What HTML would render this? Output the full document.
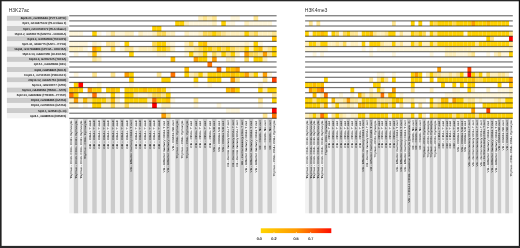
<!DOCTYPE html><html><head><meta charset="utf-8"><style>
html,body{margin:0;padding:0;background:#fff;}
body{width:520px;height:248px;overflow:hidden;position:relative;font-family:"Liberation Sans",sans-serif;}
.a{position:absolute;}
svg{position:absolute;left:0;top:0;will-change:transform;}
</style></head><body>
<svg width="520" height="248" viewBox="0 0 520 248">
<rect x="6.9" y="15.75" width="61.50" height="5.13" fill="#cbcbcb"/>
<rect x="6.9" y="20.88" width="61.50" height="5.13" fill="#f2f2f2"/>
<rect x="6.9" y="26.01" width="61.50" height="5.13" fill="#cbcbcb"/>
<rect x="6.9" y="31.14" width="61.50" height="5.13" fill="#f2f2f2"/>
<rect x="6.9" y="36.27" width="61.50" height="5.13" fill="#cbcbcb"/>
<rect x="6.9" y="41.40" width="61.50" height="5.13" fill="#f2f2f2"/>
<rect x="6.9" y="46.53" width="61.50" height="5.13" fill="#cbcbcb"/>
<rect x="6.9" y="51.66" width="61.50" height="5.13" fill="#f2f2f2"/>
<rect x="6.9" y="56.79" width="61.50" height="5.13" fill="#cbcbcb"/>
<rect x="6.9" y="61.92" width="61.50" height="5.13" fill="#f2f2f2"/>
<rect x="6.9" y="67.05" width="61.50" height="5.13" fill="#cbcbcb"/>
<rect x="6.9" y="72.18" width="61.50" height="5.13" fill="#f2f2f2"/>
<rect x="6.9" y="77.31" width="61.50" height="5.13" fill="#cbcbcb"/>
<rect x="6.9" y="82.44" width="61.50" height="5.13" fill="#f2f2f2"/>
<rect x="6.9" y="87.57" width="61.50" height="5.13" fill="#cbcbcb"/>
<rect x="6.9" y="92.70" width="61.50" height="5.13" fill="#f2f2f2"/>
<rect x="6.9" y="97.83" width="61.50" height="5.13" fill="#cbcbcb"/>
<rect x="6.9" y="102.96" width="61.50" height="5.13" fill="#f2f2f2"/>
<rect x="6.9" y="108.09" width="61.50" height="5.13" fill="#cbcbcb"/>
<rect x="6.9" y="113.22" width="61.50" height="5.13" fill="#f2f2f2"/>
<rect x="69.20" y="118.8" width="4.63" height="94.50" fill="#f2f2f2"/>
<rect x="73.81" y="118.8" width="4.63" height="94.50" fill="#cbcbcb"/>
<rect x="78.42" y="118.8" width="4.63" height="94.50" fill="#f2f2f2"/>
<rect x="83.03" y="118.8" width="4.63" height="94.50" fill="#cbcbcb"/>
<rect x="87.64" y="118.8" width="4.63" height="94.50" fill="#f2f2f2"/>
<rect x="92.24" y="118.8" width="4.63" height="94.50" fill="#cbcbcb"/>
<rect x="96.85" y="118.8" width="4.63" height="94.50" fill="#f2f2f2"/>
<rect x="101.46" y="118.8" width="4.63" height="94.50" fill="#cbcbcb"/>
<rect x="106.07" y="118.8" width="4.63" height="94.50" fill="#f2f2f2"/>
<rect x="110.68" y="118.8" width="4.63" height="94.50" fill="#cbcbcb"/>
<rect x="115.29" y="118.8" width="4.63" height="94.50" fill="#f2f2f2"/>
<rect x="119.90" y="118.8" width="4.63" height="94.50" fill="#cbcbcb"/>
<rect x="124.51" y="118.8" width="4.63" height="94.50" fill="#f2f2f2"/>
<rect x="129.12" y="118.8" width="4.63" height="94.50" fill="#cbcbcb"/>
<rect x="133.72" y="118.8" width="4.63" height="94.50" fill="#f2f2f2"/>
<rect x="138.33" y="118.8" width="4.63" height="94.50" fill="#cbcbcb"/>
<rect x="142.94" y="118.8" width="4.63" height="94.50" fill="#f2f2f2"/>
<rect x="147.55" y="118.8" width="4.63" height="94.50" fill="#cbcbcb"/>
<rect x="152.16" y="118.8" width="4.63" height="94.50" fill="#f2f2f2"/>
<rect x="156.77" y="118.8" width="4.63" height="94.50" fill="#cbcbcb"/>
<rect x="161.38" y="118.8" width="4.63" height="94.50" fill="#f2f2f2"/>
<rect x="165.99" y="118.8" width="4.63" height="94.50" fill="#cbcbcb"/>
<rect x="170.60" y="118.8" width="4.63" height="94.50" fill="#f2f2f2"/>
<rect x="175.20" y="118.8" width="4.63" height="94.50" fill="#cbcbcb"/>
<rect x="179.81" y="118.8" width="4.63" height="94.50" fill="#f2f2f2"/>
<rect x="184.42" y="118.8" width="4.63" height="94.50" fill="#cbcbcb"/>
<rect x="189.03" y="118.8" width="4.63" height="94.50" fill="#f2f2f2"/>
<rect x="193.64" y="118.8" width="4.63" height="94.50" fill="#cbcbcb"/>
<rect x="198.25" y="118.8" width="4.63" height="94.50" fill="#f2f2f2"/>
<rect x="202.86" y="118.8" width="4.63" height="94.50" fill="#cbcbcb"/>
<rect x="207.47" y="118.8" width="4.63" height="94.50" fill="#f2f2f2"/>
<rect x="212.08" y="118.8" width="4.63" height="94.50" fill="#cbcbcb"/>
<rect x="216.68" y="118.8" width="4.63" height="94.50" fill="#f2f2f2"/>
<rect x="221.29" y="118.8" width="4.63" height="94.50" fill="#cbcbcb"/>
<rect x="225.90" y="118.8" width="4.63" height="94.50" fill="#f2f2f2"/>
<rect x="230.51" y="118.8" width="4.63" height="94.50" fill="#cbcbcb"/>
<rect x="235.12" y="118.8" width="4.63" height="94.50" fill="#f2f2f2"/>
<rect x="239.73" y="118.8" width="4.63" height="94.50" fill="#cbcbcb"/>
<rect x="244.34" y="118.8" width="4.63" height="94.50" fill="#f2f2f2"/>
<rect x="248.95" y="118.8" width="4.63" height="94.50" fill="#cbcbcb"/>
<rect x="253.56" y="118.8" width="4.63" height="94.50" fill="#f2f2f2"/>
<rect x="258.16" y="118.8" width="4.63" height="94.50" fill="#cbcbcb"/>
<rect x="262.77" y="118.8" width="4.63" height="94.50" fill="#f2f2f2"/>
<rect x="267.38" y="118.8" width="4.63" height="94.50" fill="#cbcbcb"/>
<rect x="271.99" y="118.8" width="4.63" height="94.50" fill="#f2f2f2"/>
<rect x="198.25" y="15.75" width="4.63" height="5.13" fill="#fff0bc"/>
<rect x="202.86" y="15.75" width="4.63" height="5.13" fill="#ffe690"/>
<rect x="207.47" y="15.75" width="4.63" height="5.13" fill="#fff0bc"/>
<rect x="212.08" y="15.75" width="4.63" height="5.13" fill="#ffe690"/>
<rect x="230.51" y="15.75" width="4.63" height="5.13" fill="#fff7dc"/>
<rect x="235.12" y="15.75" width="4.63" height="5.13" fill="#fff7dc"/>
<rect x="253.56" y="15.75" width="4.63" height="5.13" fill="#ffe690"/>
<rect x="175.20" y="20.88" width="4.63" height="5.13" fill="#ffd200"/>
<rect x="179.81" y="20.88" width="4.63" height="5.13" fill="#ffd200"/>
<rect x="184.42" y="20.88" width="4.63" height="5.13" fill="#fff0bc"/>
<rect x="189.03" y="20.88" width="4.63" height="5.13" fill="#fff7dc"/>
<rect x="193.64" y="20.88" width="4.63" height="5.13" fill="#fff7dc"/>
<rect x="198.25" y="20.88" width="4.63" height="5.13" fill="#fff7dc"/>
<rect x="202.86" y="20.88" width="4.63" height="5.13" fill="#fff7dc"/>
<rect x="207.47" y="20.88" width="4.63" height="5.13" fill="#fff7dc"/>
<rect x="212.08" y="20.88" width="4.63" height="5.13" fill="#fff0bc"/>
<rect x="221.29" y="20.88" width="4.63" height="5.13" fill="#ffd200"/>
<rect x="225.90" y="20.88" width="4.63" height="5.13" fill="#fff7dc"/>
<rect x="230.51" y="20.88" width="4.63" height="5.13" fill="#fff7dc"/>
<rect x="244.34" y="20.88" width="4.63" height="5.13" fill="#fff0bc"/>
<rect x="248.95" y="20.88" width="4.63" height="5.13" fill="#fff7dc"/>
<rect x="253.56" y="20.88" width="4.63" height="5.13" fill="#fff7dc"/>
<rect x="258.16" y="20.88" width="4.63" height="5.13" fill="#fff7dc"/>
<rect x="262.77" y="20.88" width="4.63" height="5.13" fill="#fff7dc"/>
<rect x="267.38" y="20.88" width="4.63" height="5.13" fill="#fff7dc"/>
<rect x="152.16" y="26.01" width="4.63" height="5.13" fill="#ffd200"/>
<rect x="156.77" y="26.01" width="4.63" height="5.13" fill="#ffd200"/>
<rect x="69.20" y="31.14" width="4.63" height="5.13" fill="#fff7dc"/>
<rect x="73.81" y="31.14" width="4.63" height="5.13" fill="#fff7dc"/>
<rect x="78.42" y="31.14" width="4.63" height="5.13" fill="#fff7dc"/>
<rect x="92.24" y="31.14" width="4.63" height="5.13" fill="#ffd200"/>
<rect x="96.85" y="31.14" width="4.63" height="5.13" fill="#fff7dc"/>
<rect x="106.07" y="31.14" width="4.63" height="5.13" fill="#fff7dc"/>
<rect x="110.68" y="31.14" width="4.63" height="5.13" fill="#ffe690"/>
<rect x="115.29" y="31.14" width="4.63" height="5.13" fill="#fff7dc"/>
<rect x="119.90" y="31.14" width="4.63" height="5.13" fill="#fff7dc"/>
<rect x="124.51" y="31.14" width="4.63" height="5.13" fill="#fff0bc"/>
<rect x="129.12" y="31.14" width="4.63" height="5.13" fill="#fff0bc"/>
<rect x="138.33" y="31.14" width="4.63" height="5.13" fill="#fff0bc"/>
<rect x="142.94" y="31.14" width="4.63" height="5.13" fill="#fff7dc"/>
<rect x="147.55" y="31.14" width="4.63" height="5.13" fill="#fff7dc"/>
<rect x="152.16" y="31.14" width="4.63" height="5.13" fill="#fff0bc"/>
<rect x="156.77" y="31.14" width="4.63" height="5.13" fill="#ffdb55"/>
<rect x="161.38" y="31.14" width="4.63" height="5.13" fill="#ffdb55"/>
<rect x="165.99" y="31.14" width="4.63" height="5.13" fill="#fff0bc"/>
<rect x="170.60" y="31.14" width="4.63" height="5.13" fill="#fff0bc"/>
<rect x="184.42" y="31.14" width="4.63" height="5.13" fill="#fff0bc"/>
<rect x="189.03" y="31.14" width="4.63" height="5.13" fill="#fff7dc"/>
<rect x="193.64" y="31.14" width="4.63" height="5.13" fill="#fff7dc"/>
<rect x="198.25" y="31.14" width="4.63" height="5.13" fill="#fff0bc"/>
<rect x="202.86" y="31.14" width="4.63" height="5.13" fill="#ffdb55"/>
<rect x="207.47" y="31.14" width="4.63" height="5.13" fill="#ffdb55"/>
<rect x="212.08" y="31.14" width="4.63" height="5.13" fill="#ffd200"/>
<rect x="216.68" y="31.14" width="4.63" height="5.13" fill="#ffdb55"/>
<rect x="221.29" y="31.14" width="4.63" height="5.13" fill="#ffe690"/>
<rect x="225.90" y="31.14" width="4.63" height="5.13" fill="#fff0bc"/>
<rect x="230.51" y="31.14" width="4.63" height="5.13" fill="#fff0bc"/>
<rect x="235.12" y="31.14" width="4.63" height="5.13" fill="#fff0bc"/>
<rect x="239.73" y="31.14" width="4.63" height="5.13" fill="#fff0bc"/>
<rect x="244.34" y="31.14" width="4.63" height="5.13" fill="#ffd200"/>
<rect x="248.95" y="31.14" width="4.63" height="5.13" fill="#ffe690"/>
<rect x="253.56" y="31.14" width="4.63" height="5.13" fill="#ffdb55"/>
<rect x="258.16" y="31.14" width="4.63" height="5.13" fill="#fff0bc"/>
<rect x="262.77" y="31.14" width="4.63" height="5.13" fill="#fff0bc"/>
<rect x="267.38" y="31.14" width="4.63" height="5.13" fill="#fff0bc"/>
<rect x="271.99" y="31.14" width="4.63" height="5.13" fill="#ffe690"/>
<rect x="271.99" y="36.27" width="4.63" height="5.13" fill="#ffbf00"/>
<rect x="69.20" y="41.40" width="4.63" height="5.13" fill="#fff7dc"/>
<rect x="73.81" y="41.40" width="4.63" height="5.13" fill="#fff7dc"/>
<rect x="78.42" y="41.40" width="4.63" height="5.13" fill="#fff7dc"/>
<rect x="83.03" y="41.40" width="4.63" height="5.13" fill="#fff7dc"/>
<rect x="92.24" y="41.40" width="4.63" height="5.13" fill="#fff0bc"/>
<rect x="96.85" y="41.40" width="4.63" height="5.13" fill="#fff7dc"/>
<rect x="106.07" y="41.40" width="4.63" height="5.13" fill="#ffe690"/>
<rect x="110.68" y="41.40" width="4.63" height="5.13" fill="#ffe690"/>
<rect x="115.29" y="41.40" width="4.63" height="5.13" fill="#fff7dc"/>
<rect x="124.51" y="41.40" width="4.63" height="5.13" fill="#ffd200"/>
<rect x="152.16" y="41.40" width="4.63" height="5.13" fill="#ffdb55"/>
<rect x="156.77" y="41.40" width="4.63" height="5.13" fill="#ffd200"/>
<rect x="161.38" y="41.40" width="4.63" height="5.13" fill="#ffd200"/>
<rect x="165.99" y="41.40" width="4.63" height="5.13" fill="#fff0bc"/>
<rect x="170.60" y="41.40" width="4.63" height="5.13" fill="#fff7dc"/>
<rect x="184.42" y="41.40" width="4.63" height="5.13" fill="#fff0bc"/>
<rect x="189.03" y="41.40" width="4.63" height="5.13" fill="#ffdb55"/>
<rect x="193.64" y="41.40" width="4.63" height="5.13" fill="#fff7dc"/>
<rect x="198.25" y="41.40" width="4.63" height="5.13" fill="#ffd200"/>
<rect x="202.86" y="41.40" width="4.63" height="5.13" fill="#ffbf00"/>
<rect x="207.47" y="41.40" width="4.63" height="5.13" fill="#fff0bc"/>
<rect x="212.08" y="41.40" width="4.63" height="5.13" fill="#fff0bc"/>
<rect x="216.68" y="41.40" width="4.63" height="5.13" fill="#fff0bc"/>
<rect x="221.29" y="41.40" width="4.63" height="5.13" fill="#fff0bc"/>
<rect x="225.90" y="41.40" width="4.63" height="5.13" fill="#fff0bc"/>
<rect x="230.51" y="41.40" width="4.63" height="5.13" fill="#fff7dc"/>
<rect x="235.12" y="41.40" width="4.63" height="5.13" fill="#fff7dc"/>
<rect x="239.73" y="41.40" width="4.63" height="5.13" fill="#fff7dc"/>
<rect x="244.34" y="41.40" width="4.63" height="5.13" fill="#fff0bc"/>
<rect x="248.95" y="41.40" width="4.63" height="5.13" fill="#fff7dc"/>
<rect x="253.56" y="41.40" width="4.63" height="5.13" fill="#ffd200"/>
<rect x="258.16" y="41.40" width="4.63" height="5.13" fill="#fff7dc"/>
<rect x="69.20" y="46.53" width="4.63" height="5.13" fill="#fff0bc"/>
<rect x="73.81" y="46.53" width="4.63" height="5.13" fill="#fff0bc"/>
<rect x="78.42" y="46.53" width="4.63" height="5.13" fill="#fff0bc"/>
<rect x="83.03" y="46.53" width="4.63" height="5.13" fill="#fff7dc"/>
<rect x="92.24" y="46.53" width="4.63" height="5.13" fill="#ffa000"/>
<rect x="96.85" y="46.53" width="4.63" height="5.13" fill="#ffd200"/>
<rect x="101.46" y="46.53" width="4.63" height="5.13" fill="#fff7dc"/>
<rect x="106.07" y="46.53" width="4.63" height="5.13" fill="#fff7dc"/>
<rect x="110.68" y="46.53" width="4.63" height="5.13" fill="#ffdb55"/>
<rect x="119.90" y="46.53" width="4.63" height="5.13" fill="#fff7dc"/>
<rect x="124.51" y="46.53" width="4.63" height="5.13" fill="#ffe690"/>
<rect x="129.12" y="46.53" width="4.63" height="5.13" fill="#ffe690"/>
<rect x="133.72" y="46.53" width="4.63" height="5.13" fill="#fff7dc"/>
<rect x="138.33" y="46.53" width="4.63" height="5.13" fill="#fff0bc"/>
<rect x="142.94" y="46.53" width="4.63" height="5.13" fill="#fff0bc"/>
<rect x="147.55" y="46.53" width="4.63" height="5.13" fill="#fff0bc"/>
<rect x="152.16" y="46.53" width="4.63" height="5.13" fill="#ffe690"/>
<rect x="156.77" y="46.53" width="4.63" height="5.13" fill="#ffd200"/>
<rect x="161.38" y="46.53" width="4.63" height="5.13" fill="#ffd200"/>
<rect x="165.99" y="46.53" width="4.63" height="5.13" fill="#ffdb55"/>
<rect x="170.60" y="46.53" width="4.63" height="5.13" fill="#fff0bc"/>
<rect x="184.42" y="46.53" width="4.63" height="5.13" fill="#fff0bc"/>
<rect x="189.03" y="46.53" width="4.63" height="5.13" fill="#fff0bc"/>
<rect x="193.64" y="46.53" width="4.63" height="5.13" fill="#ffe690"/>
<rect x="198.25" y="46.53" width="4.63" height="5.13" fill="#ffdb55"/>
<rect x="202.86" y="46.53" width="4.63" height="5.13" fill="#ffd200"/>
<rect x="207.47" y="46.53" width="4.63" height="5.13" fill="#ffd200"/>
<rect x="212.08" y="46.53" width="4.63" height="5.13" fill="#ffdb55"/>
<rect x="216.68" y="46.53" width="4.63" height="5.13" fill="#ffd200"/>
<rect x="221.29" y="46.53" width="4.63" height="5.13" fill="#ffdb55"/>
<rect x="225.90" y="46.53" width="4.63" height="5.13" fill="#ffd200"/>
<rect x="230.51" y="46.53" width="4.63" height="5.13" fill="#ffdb55"/>
<rect x="235.12" y="46.53" width="4.63" height="5.13" fill="#ffe690"/>
<rect x="239.73" y="46.53" width="4.63" height="5.13" fill="#ffe690"/>
<rect x="244.34" y="46.53" width="4.63" height="5.13" fill="#ffd200"/>
<rect x="248.95" y="46.53" width="4.63" height="5.13" fill="#fff0bc"/>
<rect x="253.56" y="46.53" width="4.63" height="5.13" fill="#ffd200"/>
<rect x="258.16" y="46.53" width="4.63" height="5.13" fill="#ffbf00"/>
<rect x="262.77" y="46.53" width="4.63" height="5.13" fill="#fff0bc"/>
<rect x="267.38" y="46.53" width="4.63" height="5.13" fill="#ffe690"/>
<rect x="271.99" y="46.53" width="4.63" height="5.13" fill="#ffd200"/>
<rect x="73.81" y="51.66" width="4.63" height="5.13" fill="#fff7dc"/>
<rect x="87.64" y="51.66" width="4.63" height="5.13" fill="#fff7dc"/>
<rect x="92.24" y="51.66" width="4.63" height="5.13" fill="#ffbf00"/>
<rect x="96.85" y="51.66" width="4.63" height="5.13" fill="#fff7dc"/>
<rect x="129.12" y="51.66" width="4.63" height="5.13" fill="#ffd200"/>
<rect x="156.77" y="51.66" width="4.63" height="5.13" fill="#fff7dc"/>
<rect x="161.38" y="51.66" width="4.63" height="5.13" fill="#fff7dc"/>
<rect x="184.42" y="51.66" width="4.63" height="5.13" fill="#fff7dc"/>
<rect x="189.03" y="51.66" width="4.63" height="5.13" fill="#ffd200"/>
<rect x="193.64" y="51.66" width="4.63" height="5.13" fill="#fff0bc"/>
<rect x="198.25" y="51.66" width="4.63" height="5.13" fill="#ffe690"/>
<rect x="202.86" y="51.66" width="4.63" height="5.13" fill="#ffd200"/>
<rect x="207.47" y="51.66" width="4.63" height="5.13" fill="#fff7dc"/>
<rect x="212.08" y="51.66" width="4.63" height="5.13" fill="#ffdb55"/>
<rect x="216.68" y="51.66" width="4.63" height="5.13" fill="#fff0bc"/>
<rect x="221.29" y="51.66" width="4.63" height="5.13" fill="#ffd200"/>
<rect x="225.90" y="51.66" width="4.63" height="5.13" fill="#ffe690"/>
<rect x="230.51" y="51.66" width="4.63" height="5.13" fill="#ffd200"/>
<rect x="235.12" y="51.66" width="4.63" height="5.13" fill="#fff0bc"/>
<rect x="244.34" y="51.66" width="4.63" height="5.13" fill="#ffa000"/>
<rect x="248.95" y="51.66" width="4.63" height="5.13" fill="#ffdb55"/>
<rect x="253.56" y="51.66" width="4.63" height="5.13" fill="#ffdb55"/>
<rect x="258.16" y="51.66" width="4.63" height="5.13" fill="#ffe690"/>
<rect x="262.77" y="51.66" width="4.63" height="5.13" fill="#ffa000"/>
<rect x="267.38" y="51.66" width="4.63" height="5.13" fill="#ffe690"/>
<rect x="271.99" y="51.66" width="4.63" height="5.13" fill="#ffd200"/>
<rect x="92.24" y="56.79" width="4.63" height="5.13" fill="#ffe690"/>
<rect x="96.85" y="56.79" width="4.63" height="5.13" fill="#fff0bc"/>
<rect x="170.60" y="56.79" width="4.63" height="5.13" fill="#ffbf00"/>
<rect x="193.64" y="56.79" width="4.63" height="5.13" fill="#ffa000"/>
<rect x="198.25" y="56.79" width="4.63" height="5.13" fill="#ffd200"/>
<rect x="202.86" y="56.79" width="4.63" height="5.13" fill="#ffd200"/>
<rect x="207.47" y="56.79" width="4.63" height="5.13" fill="#fff7dc"/>
<rect x="212.08" y="56.79" width="4.63" height="5.13" fill="#ffa000"/>
<rect x="225.90" y="56.79" width="4.63" height="5.13" fill="#fff0bc"/>
<rect x="230.51" y="56.79" width="4.63" height="5.13" fill="#fff0bc"/>
<rect x="244.34" y="56.79" width="4.63" height="5.13" fill="#ffdb55"/>
<rect x="253.56" y="56.79" width="4.63" height="5.13" fill="#ffd200"/>
<rect x="258.16" y="56.79" width="4.63" height="5.13" fill="#ffd200"/>
<rect x="262.77" y="56.79" width="4.63" height="5.13" fill="#fff0bc"/>
<rect x="207.47" y="61.92" width="4.63" height="5.13" fill="#ff7400"/>
<rect x="184.42" y="67.05" width="4.63" height="5.13" fill="#ffbf00"/>
<rect x="216.68" y="67.05" width="4.63" height="5.13" fill="#ff7400"/>
<rect x="225.90" y="67.05" width="4.63" height="5.13" fill="#ffbf00"/>
<rect x="230.51" y="67.05" width="4.63" height="5.13" fill="#ffbf00"/>
<rect x="235.12" y="67.05" width="4.63" height="5.13" fill="#ffa000"/>
<rect x="73.81" y="72.18" width="4.63" height="5.13" fill="#fff7dc"/>
<rect x="92.24" y="72.18" width="4.63" height="5.13" fill="#ffe690"/>
<rect x="110.68" y="72.18" width="4.63" height="5.13" fill="#ffe690"/>
<rect x="124.51" y="72.18" width="4.63" height="5.13" fill="#ffa000"/>
<rect x="129.12" y="72.18" width="4.63" height="5.13" fill="#ffd200"/>
<rect x="156.77" y="72.18" width="4.63" height="5.13" fill="#ffe690"/>
<rect x="170.60" y="72.18" width="4.63" height="5.13" fill="#ff7400"/>
<rect x="184.42" y="72.18" width="4.63" height="5.13" fill="#ffd200"/>
<rect x="189.03" y="72.18" width="4.63" height="5.13" fill="#fff0bc"/>
<rect x="193.64" y="72.18" width="4.63" height="5.13" fill="#ffe690"/>
<rect x="198.25" y="72.18" width="4.63" height="5.13" fill="#ffd200"/>
<rect x="202.86" y="72.18" width="4.63" height="5.13" fill="#fff0bc"/>
<rect x="207.47" y="72.18" width="4.63" height="5.13" fill="#ffd200"/>
<rect x="212.08" y="72.18" width="4.63" height="5.13" fill="#ffd200"/>
<rect x="216.68" y="72.18" width="4.63" height="5.13" fill="#ffd200"/>
<rect x="221.29" y="72.18" width="4.63" height="5.13" fill="#ffd200"/>
<rect x="225.90" y="72.18" width="4.63" height="5.13" fill="#ffd200"/>
<rect x="230.51" y="72.18" width="4.63" height="5.13" fill="#ffbf00"/>
<rect x="235.12" y="72.18" width="4.63" height="5.13" fill="#ffd200"/>
<rect x="239.73" y="72.18" width="4.63" height="5.13" fill="#ffd200"/>
<rect x="244.34" y="72.18" width="4.63" height="5.13" fill="#ffa000"/>
<rect x="248.95" y="72.18" width="4.63" height="5.13" fill="#ffe690"/>
<rect x="253.56" y="72.18" width="4.63" height="5.13" fill="#ffd200"/>
<rect x="258.16" y="72.18" width="4.63" height="5.13" fill="#fff7dc"/>
<rect x="262.77" y="72.18" width="4.63" height="5.13" fill="#ffa000"/>
<rect x="267.38" y="72.18" width="4.63" height="5.13" fill="#fff7dc"/>
<rect x="129.12" y="77.31" width="4.63" height="5.13" fill="#ffd200"/>
<rect x="161.38" y="77.31" width="4.63" height="5.13" fill="#ffd200"/>
<rect x="165.99" y="77.31" width="4.63" height="5.13" fill="#ffd200"/>
<rect x="193.64" y="77.31" width="4.63" height="5.13" fill="#ffd200"/>
<rect x="207.47" y="77.31" width="4.63" height="5.13" fill="#ffd200"/>
<rect x="212.08" y="77.31" width="4.63" height="5.13" fill="#ffd200"/>
<rect x="216.68" y="77.31" width="4.63" height="5.13" fill="#ffd200"/>
<rect x="230.51" y="77.31" width="4.63" height="5.13" fill="#ffa000"/>
<rect x="235.12" y="77.31" width="4.63" height="5.13" fill="#ffe690"/>
<rect x="262.77" y="77.31" width="4.63" height="5.13" fill="#ffe690"/>
<rect x="271.99" y="77.31" width="4.63" height="5.13" fill="#ff4000"/>
<rect x="73.81" y="82.44" width="4.63" height="5.13" fill="#ffd200"/>
<rect x="78.42" y="82.44" width="4.63" height="5.13" fill="#ff0000"/>
<rect x="96.85" y="82.44" width="4.63" height="5.13" fill="#fff7dc"/>
<rect x="129.12" y="82.44" width="4.63" height="5.13" fill="#fff7dc"/>
<rect x="193.64" y="82.44" width="4.63" height="5.13" fill="#fff7dc"/>
<rect x="207.47" y="82.44" width="4.63" height="5.13" fill="#fff7dc"/>
<rect x="258.16" y="82.44" width="4.63" height="5.13" fill="#fff7dc"/>
<rect x="69.20" y="87.57" width="4.63" height="5.13" fill="#ffbf00"/>
<rect x="73.81" y="87.57" width="4.63" height="5.13" fill="#ffbf00"/>
<rect x="78.42" y="87.57" width="4.63" height="5.13" fill="#ffd200"/>
<rect x="87.64" y="87.57" width="4.63" height="5.13" fill="#ffa000"/>
<rect x="92.24" y="87.57" width="4.63" height="5.13" fill="#ffd200"/>
<rect x="96.85" y="87.57" width="4.63" height="5.13" fill="#ffd200"/>
<rect x="106.07" y="87.57" width="4.63" height="5.13" fill="#ffd200"/>
<rect x="110.68" y="87.57" width="4.63" height="5.13" fill="#ffbf00"/>
<rect x="115.29" y="87.57" width="4.63" height="5.13" fill="#ffd200"/>
<rect x="124.51" y="87.57" width="4.63" height="5.13" fill="#ffd200"/>
<rect x="129.12" y="87.57" width="4.63" height="5.13" fill="#ffd200"/>
<rect x="133.72" y="87.57" width="4.63" height="5.13" fill="#ffd200"/>
<rect x="138.33" y="87.57" width="4.63" height="5.13" fill="#ffd200"/>
<rect x="142.94" y="87.57" width="4.63" height="5.13" fill="#ffbf00"/>
<rect x="147.55" y="87.57" width="4.63" height="5.13" fill="#ffd200"/>
<rect x="152.16" y="87.57" width="4.63" height="5.13" fill="#ffd200"/>
<rect x="156.77" y="87.57" width="4.63" height="5.13" fill="#ffbf00"/>
<rect x="161.38" y="87.57" width="4.63" height="5.13" fill="#ffd200"/>
<rect x="165.99" y="87.57" width="4.63" height="5.13" fill="#fff7dc"/>
<rect x="225.90" y="87.57" width="4.63" height="5.13" fill="#ffbf00"/>
<rect x="230.51" y="87.57" width="4.63" height="5.13" fill="#ffa000"/>
<rect x="235.12" y="87.57" width="4.63" height="5.13" fill="#ffd200"/>
<rect x="258.16" y="87.57" width="4.63" height="5.13" fill="#ffd200"/>
<rect x="262.77" y="87.57" width="4.63" height="5.13" fill="#fff0bc"/>
<rect x="267.38" y="87.57" width="4.63" height="5.13" fill="#ffd200"/>
<rect x="271.99" y="87.57" width="4.63" height="5.13" fill="#ffd200"/>
<rect x="69.20" y="92.70" width="4.63" height="5.13" fill="#ff7400"/>
<rect x="73.81" y="92.70" width="4.63" height="5.13" fill="#ffd200"/>
<rect x="87.64" y="92.70" width="4.63" height="5.13" fill="#fff7dc"/>
<rect x="92.24" y="92.70" width="4.63" height="5.13" fill="#ff7400"/>
<rect x="96.85" y="92.70" width="4.63" height="5.13" fill="#fff7dc"/>
<rect x="101.46" y="92.70" width="4.63" height="5.13" fill="#fff7dc"/>
<rect x="110.68" y="92.70" width="4.63" height="5.13" fill="#ffd200"/>
<rect x="115.29" y="92.70" width="4.63" height="5.13" fill="#fff7dc"/>
<rect x="124.51" y="92.70" width="4.63" height="5.13" fill="#ffd200"/>
<rect x="129.12" y="92.70" width="4.63" height="5.13" fill="#ffd200"/>
<rect x="133.72" y="92.70" width="4.63" height="5.13" fill="#fff0bc"/>
<rect x="138.33" y="92.70" width="4.63" height="5.13" fill="#fff7dc"/>
<rect x="142.94" y="92.70" width="4.63" height="5.13" fill="#fff7dc"/>
<rect x="147.55" y="92.70" width="4.63" height="5.13" fill="#fff0bc"/>
<rect x="152.16" y="92.70" width="4.63" height="5.13" fill="#ffdb55"/>
<rect x="156.77" y="92.70" width="4.63" height="5.13" fill="#ffdb55"/>
<rect x="161.38" y="92.70" width="4.63" height="5.13" fill="#ffe690"/>
<rect x="165.99" y="92.70" width="4.63" height="5.13" fill="#ffd200"/>
<rect x="271.99" y="92.70" width="4.63" height="5.13" fill="#ffe690"/>
<rect x="69.20" y="97.83" width="4.63" height="5.13" fill="#fff0bc"/>
<rect x="73.81" y="97.83" width="4.63" height="5.13" fill="#ffa000"/>
<rect x="78.42" y="97.83" width="4.63" height="5.13" fill="#fff0bc"/>
<rect x="83.03" y="97.83" width="4.63" height="5.13" fill="#ffbf00"/>
<rect x="87.64" y="97.83" width="4.63" height="5.13" fill="#ffe690"/>
<rect x="92.24" y="97.83" width="4.63" height="5.13" fill="#ffd200"/>
<rect x="96.85" y="97.83" width="4.63" height="5.13" fill="#ffd200"/>
<rect x="101.46" y="97.83" width="4.63" height="5.13" fill="#ffd200"/>
<rect x="106.07" y="97.83" width="4.63" height="5.13" fill="#ffe690"/>
<rect x="110.68" y="97.83" width="4.63" height="5.13" fill="#ffbf00"/>
<rect x="115.29" y="97.83" width="4.63" height="5.13" fill="#fff0bc"/>
<rect x="124.51" y="97.83" width="4.63" height="5.13" fill="#ffd200"/>
<rect x="129.12" y="97.83" width="4.63" height="5.13" fill="#ffd200"/>
<rect x="133.72" y="97.83" width="4.63" height="5.13" fill="#ffd200"/>
<rect x="138.33" y="97.83" width="4.63" height="5.13" fill="#ffd200"/>
<rect x="142.94" y="97.83" width="4.63" height="5.13" fill="#ffd200"/>
<rect x="147.55" y="97.83" width="4.63" height="5.13" fill="#fff0bc"/>
<rect x="152.16" y="97.83" width="4.63" height="5.13" fill="#ff7400"/>
<rect x="156.77" y="97.83" width="4.63" height="5.13" fill="#ffd200"/>
<rect x="161.38" y="97.83" width="4.63" height="5.13" fill="#ffd200"/>
<rect x="165.99" y="97.83" width="4.63" height="5.13" fill="#ffbf00"/>
<rect x="170.60" y="97.83" width="4.63" height="5.13" fill="#fff7dc"/>
<rect x="193.64" y="97.83" width="4.63" height="5.13" fill="#ffe690"/>
<rect x="258.16" y="97.83" width="4.63" height="5.13" fill="#ffe690"/>
<rect x="271.99" y="97.83" width="4.63" height="5.13" fill="#ffd200"/>
<rect x="69.20" y="102.96" width="4.63" height="5.13" fill="#fff7dc"/>
<rect x="73.81" y="102.96" width="4.63" height="5.13" fill="#fff7dc"/>
<rect x="83.03" y="102.96" width="4.63" height="5.13" fill="#fff7dc"/>
<rect x="92.24" y="102.96" width="4.63" height="5.13" fill="#ffd200"/>
<rect x="96.85" y="102.96" width="4.63" height="5.13" fill="#ffd200"/>
<rect x="101.46" y="102.96" width="4.63" height="5.13" fill="#fff7dc"/>
<rect x="106.07" y="102.96" width="4.63" height="5.13" fill="#fff7dc"/>
<rect x="110.68" y="102.96" width="4.63" height="5.13" fill="#ffdb55"/>
<rect x="115.29" y="102.96" width="4.63" height="5.13" fill="#fff7dc"/>
<rect x="119.90" y="102.96" width="4.63" height="5.13" fill="#fff7dc"/>
<rect x="124.51" y="102.96" width="4.63" height="5.13" fill="#ffdb55"/>
<rect x="129.12" y="102.96" width="4.63" height="5.13" fill="#fff7dc"/>
<rect x="133.72" y="102.96" width="4.63" height="5.13" fill="#fff7dc"/>
<rect x="138.33" y="102.96" width="4.63" height="5.13" fill="#fff7dc"/>
<rect x="142.94" y="102.96" width="4.63" height="5.13" fill="#fff7dc"/>
<rect x="152.16" y="102.96" width="4.63" height="5.13" fill="#ff0000"/>
<rect x="161.38" y="102.96" width="4.63" height="5.13" fill="#fff0bc"/>
<rect x="165.99" y="102.96" width="4.63" height="5.13" fill="#fff0bc"/>
<rect x="193.64" y="102.96" width="4.63" height="5.13" fill="#fff7dc"/>
<rect x="216.68" y="102.96" width="4.63" height="5.13" fill="#fff7dc"/>
<rect x="258.16" y="102.96" width="4.63" height="5.13" fill="#fff7dc"/>
<rect x="161.38" y="108.09" width="4.63" height="5.13" fill="#fff7dc"/>
<rect x="225.90" y="108.09" width="4.63" height="5.13" fill="#fff7dc"/>
<rect x="230.51" y="108.09" width="4.63" height="5.13" fill="#fff7dc"/>
<rect x="235.12" y="108.09" width="4.63" height="5.13" fill="#fff7dc"/>
<rect x="271.99" y="108.09" width="4.63" height="5.13" fill="#ff0000"/>
<rect x="161.38" y="113.22" width="4.63" height="5.13" fill="#ffa000"/>
<rect x="165.99" y="113.22" width="4.63" height="5.13" fill="#ffe690"/>
<rect x="262.77" y="113.22" width="4.63" height="5.13" fill="#ffe690"/>
<rect x="271.99" y="113.22" width="4.63" height="5.13" fill="#ff7400"/>
<rect x="69.20" y="15.15" width="207.40" height="1.2" fill="#000" fill-opacity="0.55"/>
<rect x="69.20" y="20.28" width="207.40" height="1.2" fill="#000" fill-opacity="0.55"/>
<rect x="69.20" y="25.41" width="207.40" height="1.2" fill="#000" fill-opacity="0.55"/>
<rect x="69.20" y="30.54" width="207.40" height="1.2" fill="#000" fill-opacity="0.55"/>
<rect x="69.20" y="35.67" width="207.40" height="1.2" fill="#000" fill-opacity="0.55"/>
<rect x="69.20" y="40.80" width="207.40" height="1.2" fill="#000" fill-opacity="0.55"/>
<rect x="69.20" y="45.93" width="207.40" height="1.2" fill="#000" fill-opacity="0.55"/>
<rect x="69.20" y="51.06" width="207.40" height="1.2" fill="#000" fill-opacity="0.55"/>
<rect x="69.20" y="56.19" width="207.40" height="1.2" fill="#000" fill-opacity="0.55"/>
<rect x="69.20" y="61.32" width="207.40" height="1.2" fill="#000" fill-opacity="0.55"/>
<rect x="69.20" y="66.45" width="207.40" height="1.2" fill="#000" fill-opacity="0.55"/>
<rect x="69.20" y="71.58" width="207.40" height="1.2" fill="#000" fill-opacity="0.55"/>
<rect x="69.20" y="76.71" width="207.40" height="1.2" fill="#000" fill-opacity="0.55"/>
<rect x="69.20" y="81.84" width="207.40" height="1.2" fill="#000" fill-opacity="0.55"/>
<rect x="69.20" y="86.97" width="207.40" height="1.2" fill="#000" fill-opacity="0.55"/>
<rect x="69.20" y="92.10" width="207.40" height="1.2" fill="#000" fill-opacity="0.55"/>
<rect x="69.20" y="97.23" width="207.40" height="1.2" fill="#000" fill-opacity="0.55"/>
<rect x="69.20" y="102.36" width="207.40" height="1.2" fill="#000" fill-opacity="0.55"/>
<rect x="69.20" y="107.49" width="207.40" height="1.2" fill="#000" fill-opacity="0.55"/>
<rect x="69.20" y="112.62" width="207.40" height="1.2" fill="#000" fill-opacity="0.55"/>
<rect x="69.20" y="117.75" width="207.40" height="1.2" fill="#000" fill-opacity="0.55"/>
<rect x="305.10" y="118.8" width="3.80" height="94.50" fill="#f2f2f2"/>
<rect x="308.88" y="118.8" width="3.80" height="94.50" fill="#cbcbcb"/>
<rect x="312.65" y="118.8" width="3.80" height="94.50" fill="#f2f2f2"/>
<rect x="316.43" y="118.8" width="3.80" height="94.50" fill="#cbcbcb"/>
<rect x="320.21" y="118.8" width="3.80" height="94.50" fill="#f2f2f2"/>
<rect x="323.98" y="118.8" width="3.80" height="94.50" fill="#cbcbcb"/>
<rect x="327.76" y="118.8" width="3.80" height="94.50" fill="#f2f2f2"/>
<rect x="331.53" y="118.8" width="3.80" height="94.50" fill="#cbcbcb"/>
<rect x="335.31" y="118.8" width="3.80" height="94.50" fill="#f2f2f2"/>
<rect x="339.09" y="118.8" width="3.80" height="94.50" fill="#cbcbcb"/>
<rect x="342.86" y="118.8" width="3.80" height="94.50" fill="#f2f2f2"/>
<rect x="346.64" y="118.8" width="3.80" height="94.50" fill="#cbcbcb"/>
<rect x="350.42" y="118.8" width="3.80" height="94.50" fill="#f2f2f2"/>
<rect x="354.19" y="118.8" width="3.80" height="94.50" fill="#cbcbcb"/>
<rect x="357.97" y="118.8" width="3.80" height="94.50" fill="#f2f2f2"/>
<rect x="361.75" y="118.8" width="3.80" height="94.50" fill="#cbcbcb"/>
<rect x="365.52" y="118.8" width="3.80" height="94.50" fill="#f2f2f2"/>
<rect x="369.30" y="118.8" width="3.80" height="94.50" fill="#cbcbcb"/>
<rect x="373.07" y="118.8" width="3.80" height="94.50" fill="#f2f2f2"/>
<rect x="376.85" y="118.8" width="3.80" height="94.50" fill="#cbcbcb"/>
<rect x="380.63" y="118.8" width="3.80" height="94.50" fill="#f2f2f2"/>
<rect x="384.40" y="118.8" width="3.80" height="94.50" fill="#cbcbcb"/>
<rect x="388.18" y="118.8" width="3.80" height="94.50" fill="#f2f2f2"/>
<rect x="391.96" y="118.8" width="3.80" height="94.50" fill="#cbcbcb"/>
<rect x="395.73" y="118.8" width="3.80" height="94.50" fill="#f2f2f2"/>
<rect x="399.51" y="118.8" width="3.80" height="94.50" fill="#cbcbcb"/>
<rect x="403.29" y="118.8" width="3.80" height="94.50" fill="#f2f2f2"/>
<rect x="407.06" y="118.8" width="3.80" height="94.50" fill="#cbcbcb"/>
<rect x="410.84" y="118.8" width="3.80" height="94.50" fill="#f2f2f2"/>
<rect x="414.61" y="118.8" width="3.80" height="94.50" fill="#cbcbcb"/>
<rect x="418.39" y="118.8" width="3.80" height="94.50" fill="#f2f2f2"/>
<rect x="422.17" y="118.8" width="3.80" height="94.50" fill="#cbcbcb"/>
<rect x="425.94" y="118.8" width="3.80" height="94.50" fill="#f2f2f2"/>
<rect x="429.72" y="118.8" width="3.80" height="94.50" fill="#cbcbcb"/>
<rect x="433.50" y="118.8" width="3.80" height="94.50" fill="#f2f2f2"/>
<rect x="437.27" y="118.8" width="3.80" height="94.50" fill="#cbcbcb"/>
<rect x="441.05" y="118.8" width="3.80" height="94.50" fill="#f2f2f2"/>
<rect x="444.83" y="118.8" width="3.80" height="94.50" fill="#cbcbcb"/>
<rect x="448.60" y="118.8" width="3.80" height="94.50" fill="#f2f2f2"/>
<rect x="452.38" y="118.8" width="3.80" height="94.50" fill="#cbcbcb"/>
<rect x="456.15" y="118.8" width="3.80" height="94.50" fill="#f2f2f2"/>
<rect x="459.93" y="118.8" width="3.80" height="94.50" fill="#cbcbcb"/>
<rect x="463.71" y="118.8" width="3.80" height="94.50" fill="#f2f2f2"/>
<rect x="467.48" y="118.8" width="3.80" height="94.50" fill="#cbcbcb"/>
<rect x="471.26" y="118.8" width="3.80" height="94.50" fill="#f2f2f2"/>
<rect x="475.04" y="118.8" width="3.80" height="94.50" fill="#cbcbcb"/>
<rect x="478.81" y="118.8" width="3.80" height="94.50" fill="#f2f2f2"/>
<rect x="482.59" y="118.8" width="3.80" height="94.50" fill="#cbcbcb"/>
<rect x="486.37" y="118.8" width="3.80" height="94.50" fill="#f2f2f2"/>
<rect x="490.14" y="118.8" width="3.80" height="94.50" fill="#cbcbcb"/>
<rect x="493.92" y="118.8" width="3.80" height="94.50" fill="#f2f2f2"/>
<rect x="497.69" y="118.8" width="3.80" height="94.50" fill="#cbcbcb"/>
<rect x="501.47" y="118.8" width="3.80" height="94.50" fill="#f2f2f2"/>
<rect x="505.25" y="118.8" width="3.80" height="94.50" fill="#cbcbcb"/>
<rect x="509.02" y="118.8" width="3.80" height="94.50" fill="#f2f2f2"/>
<rect x="308.88" y="20.88" width="3.80" height="5.13" fill="#ffe690"/>
<rect x="316.43" y="20.88" width="3.80" height="5.13" fill="#ffe690"/>
<rect x="391.96" y="20.88" width="3.80" height="5.13" fill="#ffe690"/>
<rect x="410.84" y="20.88" width="3.80" height="5.13" fill="#ffd200"/>
<rect x="418.39" y="20.88" width="3.80" height="5.13" fill="#ffd200"/>
<rect x="429.72" y="20.88" width="3.80" height="5.13" fill="#ffd200"/>
<rect x="433.50" y="20.88" width="3.80" height="5.13" fill="#ffdb55"/>
<rect x="437.27" y="20.88" width="3.80" height="5.13" fill="#ffd200"/>
<rect x="441.05" y="20.88" width="3.80" height="5.13" fill="#ffd200"/>
<rect x="444.83" y="20.88" width="3.80" height="5.13" fill="#ffd200"/>
<rect x="448.60" y="20.88" width="3.80" height="5.13" fill="#ffd200"/>
<rect x="452.38" y="20.88" width="3.80" height="5.13" fill="#ffdb55"/>
<rect x="456.15" y="20.88" width="3.80" height="5.13" fill="#ffd200"/>
<rect x="459.93" y="20.88" width="3.80" height="5.13" fill="#ffd200"/>
<rect x="463.71" y="20.88" width="3.80" height="5.13" fill="#ffd200"/>
<rect x="467.48" y="20.88" width="3.80" height="5.13" fill="#ffd200"/>
<rect x="471.26" y="20.88" width="3.80" height="5.13" fill="#ffa000"/>
<rect x="475.04" y="20.88" width="3.80" height="5.13" fill="#ffd200"/>
<rect x="478.81" y="20.88" width="3.80" height="5.13" fill="#ffd200"/>
<rect x="482.59" y="20.88" width="3.80" height="5.13" fill="#ffd200"/>
<rect x="486.37" y="20.88" width="3.80" height="5.13" fill="#ffbf00"/>
<rect x="490.14" y="20.88" width="3.80" height="5.13" fill="#ffd200"/>
<rect x="493.92" y="20.88" width="3.80" height="5.13" fill="#ffd200"/>
<rect x="497.69" y="20.88" width="3.80" height="5.13" fill="#ffd200"/>
<rect x="501.47" y="20.88" width="3.80" height="5.13" fill="#ffd200"/>
<rect x="505.25" y="20.88" width="3.80" height="5.13" fill="#ffd200"/>
<rect x="305.10" y="31.14" width="3.80" height="5.13" fill="#ffd200"/>
<rect x="308.88" y="31.14" width="3.80" height="5.13" fill="#fff7dc"/>
<rect x="312.65" y="31.14" width="3.80" height="5.13" fill="#ffd200"/>
<rect x="316.43" y="31.14" width="3.80" height="5.13" fill="#ffd200"/>
<rect x="320.21" y="31.14" width="3.80" height="5.13" fill="#ffbf00"/>
<rect x="323.98" y="31.14" width="3.80" height="5.13" fill="#ffd200"/>
<rect x="331.53" y="31.14" width="3.80" height="5.13" fill="#ffd200"/>
<rect x="335.31" y="31.14" width="3.80" height="5.13" fill="#ffdb55"/>
<rect x="339.09" y="31.14" width="3.80" height="5.13" fill="#fff7dc"/>
<rect x="342.86" y="31.14" width="3.80" height="5.13" fill="#ffdb55"/>
<rect x="346.64" y="31.14" width="3.80" height="5.13" fill="#ffd200"/>
<rect x="350.42" y="31.14" width="3.80" height="5.13" fill="#ffe690"/>
<rect x="354.19" y="31.14" width="3.80" height="5.13" fill="#ffe690"/>
<rect x="357.97" y="31.14" width="3.80" height="5.13" fill="#fff7dc"/>
<rect x="361.75" y="31.14" width="3.80" height="5.13" fill="#ffd200"/>
<rect x="365.52" y="31.14" width="3.80" height="5.13" fill="#ffd200"/>
<rect x="369.30" y="31.14" width="3.80" height="5.13" fill="#ffbf00"/>
<rect x="373.07" y="31.14" width="3.80" height="5.13" fill="#ffe690"/>
<rect x="376.85" y="31.14" width="3.80" height="5.13" fill="#fff0bc"/>
<rect x="380.63" y="31.14" width="3.80" height="5.13" fill="#fff0bc"/>
<rect x="384.40" y="31.14" width="3.80" height="5.13" fill="#ffe690"/>
<rect x="388.18" y="31.14" width="3.80" height="5.13" fill="#ffd200"/>
<rect x="391.96" y="31.14" width="3.80" height="5.13" fill="#ffd200"/>
<rect x="395.73" y="31.14" width="3.80" height="5.13" fill="#fff7dc"/>
<rect x="399.51" y="31.14" width="3.80" height="5.13" fill="#ffe690"/>
<rect x="403.29" y="31.14" width="3.80" height="5.13" fill="#fff7dc"/>
<rect x="407.06" y="31.14" width="3.80" height="5.13" fill="#fff7dc"/>
<rect x="410.84" y="31.14" width="3.80" height="5.13" fill="#ffd200"/>
<rect x="414.61" y="31.14" width="3.80" height="5.13" fill="#ffdb55"/>
<rect x="418.39" y="31.14" width="3.80" height="5.13" fill="#ffd200"/>
<rect x="422.17" y="31.14" width="3.80" height="5.13" fill="#ffdb55"/>
<rect x="425.94" y="31.14" width="3.80" height="5.13" fill="#fff7dc"/>
<rect x="429.72" y="31.14" width="3.80" height="5.13" fill="#ffd200"/>
<rect x="433.50" y="31.14" width="3.80" height="5.13" fill="#ffe690"/>
<rect x="437.27" y="31.14" width="3.80" height="5.13" fill="#ffd200"/>
<rect x="441.05" y="31.14" width="3.80" height="5.13" fill="#ffd200"/>
<rect x="444.83" y="31.14" width="3.80" height="5.13" fill="#ffd200"/>
<rect x="448.60" y="31.14" width="3.80" height="5.13" fill="#ffd200"/>
<rect x="452.38" y="31.14" width="3.80" height="5.13" fill="#ffd200"/>
<rect x="456.15" y="31.14" width="3.80" height="5.13" fill="#ffd200"/>
<rect x="459.93" y="31.14" width="3.80" height="5.13" fill="#ffd200"/>
<rect x="463.71" y="31.14" width="3.80" height="5.13" fill="#fff7dc"/>
<rect x="467.48" y="31.14" width="3.80" height="5.13" fill="#ffd200"/>
<rect x="471.26" y="31.14" width="3.80" height="5.13" fill="#ffd200"/>
<rect x="475.04" y="31.14" width="3.80" height="5.13" fill="#ffd200"/>
<rect x="478.81" y="31.14" width="3.80" height="5.13" fill="#ffd200"/>
<rect x="482.59" y="31.14" width="3.80" height="5.13" fill="#ffd200"/>
<rect x="486.37" y="31.14" width="3.80" height="5.13" fill="#ffd200"/>
<rect x="490.14" y="31.14" width="3.80" height="5.13" fill="#ffd200"/>
<rect x="493.92" y="31.14" width="3.80" height="5.13" fill="#ffd200"/>
<rect x="497.69" y="31.14" width="3.80" height="5.13" fill="#ffd200"/>
<rect x="501.47" y="31.14" width="3.80" height="5.13" fill="#ffd200"/>
<rect x="505.25" y="31.14" width="3.80" height="5.13" fill="#ffd200"/>
<rect x="509.02" y="31.14" width="3.80" height="5.13" fill="#ffe690"/>
<rect x="486.37" y="36.27" width="3.80" height="5.13" fill="#ffd200"/>
<rect x="490.14" y="36.27" width="3.80" height="5.13" fill="#ffe690"/>
<rect x="509.02" y="36.27" width="3.80" height="5.13" fill="#ff0000"/>
<rect x="305.10" y="41.40" width="3.80" height="5.13" fill="#fff0bc"/>
<rect x="308.88" y="41.40" width="3.80" height="5.13" fill="#ffd200"/>
<rect x="312.65" y="41.40" width="3.80" height="5.13" fill="#ffd200"/>
<rect x="316.43" y="41.40" width="3.80" height="5.13" fill="#ffe690"/>
<rect x="320.21" y="41.40" width="3.80" height="5.13" fill="#ffd200"/>
<rect x="323.98" y="41.40" width="3.80" height="5.13" fill="#ffd200"/>
<rect x="327.76" y="41.40" width="3.80" height="5.13" fill="#fff0bc"/>
<rect x="331.53" y="41.40" width="3.80" height="5.13" fill="#fff0bc"/>
<rect x="335.31" y="41.40" width="3.80" height="5.13" fill="#ffe690"/>
<rect x="339.09" y="41.40" width="3.80" height="5.13" fill="#fff0bc"/>
<rect x="342.86" y="41.40" width="3.80" height="5.13" fill="#ffdb55"/>
<rect x="346.64" y="41.40" width="3.80" height="5.13" fill="#fff7dc"/>
<rect x="350.42" y="41.40" width="3.80" height="5.13" fill="#fff0bc"/>
<rect x="354.19" y="41.40" width="3.80" height="5.13" fill="#fff0bc"/>
<rect x="357.97" y="41.40" width="3.80" height="5.13" fill="#fff7dc"/>
<rect x="361.75" y="41.40" width="3.80" height="5.13" fill="#ffd200"/>
<rect x="365.52" y="41.40" width="3.80" height="5.13" fill="#fff7dc"/>
<rect x="369.30" y="41.40" width="3.80" height="5.13" fill="#ffd200"/>
<rect x="373.07" y="41.40" width="3.80" height="5.13" fill="#ffd200"/>
<rect x="376.85" y="41.40" width="3.80" height="5.13" fill="#ffd200"/>
<rect x="380.63" y="41.40" width="3.80" height="5.13" fill="#ffe690"/>
<rect x="384.40" y="41.40" width="3.80" height="5.13" fill="#fff0bc"/>
<rect x="388.18" y="41.40" width="3.80" height="5.13" fill="#fff0bc"/>
<rect x="391.96" y="41.40" width="3.80" height="5.13" fill="#ffd200"/>
<rect x="395.73" y="41.40" width="3.80" height="5.13" fill="#fff0bc"/>
<rect x="399.51" y="41.40" width="3.80" height="5.13" fill="#ffe690"/>
<rect x="403.29" y="41.40" width="3.80" height="5.13" fill="#fff7dc"/>
<rect x="407.06" y="41.40" width="3.80" height="5.13" fill="#fff7dc"/>
<rect x="410.84" y="41.40" width="3.80" height="5.13" fill="#ffd200"/>
<rect x="414.61" y="41.40" width="3.80" height="5.13" fill="#ffe690"/>
<rect x="418.39" y="41.40" width="3.80" height="5.13" fill="#ffd200"/>
<rect x="422.17" y="41.40" width="3.80" height="5.13" fill="#fff0bc"/>
<rect x="425.94" y="41.40" width="3.80" height="5.13" fill="#fff0bc"/>
<rect x="429.72" y="41.40" width="3.80" height="5.13" fill="#ffd200"/>
<rect x="433.50" y="41.40" width="3.80" height="5.13" fill="#ffe690"/>
<rect x="437.27" y="41.40" width="3.80" height="5.13" fill="#ffd200"/>
<rect x="441.05" y="41.40" width="3.80" height="5.13" fill="#ffd200"/>
<rect x="444.83" y="41.40" width="3.80" height="5.13" fill="#ffd200"/>
<rect x="448.60" y="41.40" width="3.80" height="5.13" fill="#ffd200"/>
<rect x="452.38" y="41.40" width="3.80" height="5.13" fill="#ffd200"/>
<rect x="456.15" y="41.40" width="3.80" height="5.13" fill="#ffd200"/>
<rect x="459.93" y="41.40" width="3.80" height="5.13" fill="#ffd200"/>
<rect x="463.71" y="41.40" width="3.80" height="5.13" fill="#ffd200"/>
<rect x="467.48" y="41.40" width="3.80" height="5.13" fill="#ffd200"/>
<rect x="471.26" y="41.40" width="3.80" height="5.13" fill="#ffd200"/>
<rect x="475.04" y="41.40" width="3.80" height="5.13" fill="#ffe690"/>
<rect x="478.81" y="41.40" width="3.80" height="5.13" fill="#ffd200"/>
<rect x="482.59" y="41.40" width="3.80" height="5.13" fill="#ffd200"/>
<rect x="486.37" y="41.40" width="3.80" height="5.13" fill="#ffd200"/>
<rect x="490.14" y="41.40" width="3.80" height="5.13" fill="#ffd200"/>
<rect x="493.92" y="41.40" width="3.80" height="5.13" fill="#ffd200"/>
<rect x="497.69" y="41.40" width="3.80" height="5.13" fill="#ffd200"/>
<rect x="501.47" y="41.40" width="3.80" height="5.13" fill="#ffd200"/>
<rect x="505.25" y="41.40" width="3.80" height="5.13" fill="#ffd200"/>
<rect x="509.02" y="41.40" width="3.80" height="5.13" fill="#ffe690"/>
<rect x="305.10" y="46.53" width="3.80" height="5.13" fill="#fff7dc"/>
<rect x="308.88" y="46.53" width="3.80" height="5.13" fill="#fff7dc"/>
<rect x="312.65" y="46.53" width="3.80" height="5.13" fill="#fff7dc"/>
<rect x="316.43" y="46.53" width="3.80" height="5.13" fill="#fff7dc"/>
<rect x="320.21" y="46.53" width="3.80" height="5.13" fill="#fff7dc"/>
<rect x="323.98" y="46.53" width="3.80" height="5.13" fill="#fff7dc"/>
<rect x="361.75" y="46.53" width="3.80" height="5.13" fill="#fff7dc"/>
<rect x="369.30" y="46.53" width="3.80" height="5.13" fill="#fff7dc"/>
<rect x="376.85" y="46.53" width="3.80" height="5.13" fill="#fff7dc"/>
<rect x="380.63" y="46.53" width="3.80" height="5.13" fill="#fff7dc"/>
<rect x="384.40" y="46.53" width="3.80" height="5.13" fill="#fff7dc"/>
<rect x="388.18" y="46.53" width="3.80" height="5.13" fill="#fff7dc"/>
<rect x="391.96" y="46.53" width="3.80" height="5.13" fill="#fff7dc"/>
<rect x="395.73" y="46.53" width="3.80" height="5.13" fill="#fff7dc"/>
<rect x="399.51" y="46.53" width="3.80" height="5.13" fill="#fff7dc"/>
<rect x="403.29" y="46.53" width="3.80" height="5.13" fill="#fff7dc"/>
<rect x="407.06" y="46.53" width="3.80" height="5.13" fill="#fff7dc"/>
<rect x="410.84" y="46.53" width="3.80" height="5.13" fill="#fff7dc"/>
<rect x="414.61" y="46.53" width="3.80" height="5.13" fill="#fff7dc"/>
<rect x="418.39" y="46.53" width="3.80" height="5.13" fill="#fff7dc"/>
<rect x="422.17" y="46.53" width="3.80" height="5.13" fill="#fff7dc"/>
<rect x="425.94" y="46.53" width="3.80" height="5.13" fill="#fff7dc"/>
<rect x="429.72" y="46.53" width="3.80" height="5.13" fill="#fff7dc"/>
<rect x="433.50" y="46.53" width="3.80" height="5.13" fill="#fff7dc"/>
<rect x="437.27" y="46.53" width="3.80" height="5.13" fill="#fff7dc"/>
<rect x="441.05" y="46.53" width="3.80" height="5.13" fill="#fff7dc"/>
<rect x="444.83" y="46.53" width="3.80" height="5.13" fill="#fff0bc"/>
<rect x="448.60" y="46.53" width="3.80" height="5.13" fill="#fff0bc"/>
<rect x="452.38" y="46.53" width="3.80" height="5.13" fill="#fff0bc"/>
<rect x="456.15" y="46.53" width="3.80" height="5.13" fill="#fff0bc"/>
<rect x="459.93" y="46.53" width="3.80" height="5.13" fill="#fff0bc"/>
<rect x="463.71" y="46.53" width="3.80" height="5.13" fill="#fff0bc"/>
<rect x="467.48" y="46.53" width="3.80" height="5.13" fill="#fff0bc"/>
<rect x="471.26" y="46.53" width="3.80" height="5.13" fill="#fff7dc"/>
<rect x="475.04" y="46.53" width="3.80" height="5.13" fill="#fff7dc"/>
<rect x="478.81" y="46.53" width="3.80" height="5.13" fill="#fff7dc"/>
<rect x="482.59" y="46.53" width="3.80" height="5.13" fill="#fff7dc"/>
<rect x="486.37" y="46.53" width="3.80" height="5.13" fill="#fff7dc"/>
<rect x="490.14" y="46.53" width="3.80" height="5.13" fill="#fff7dc"/>
<rect x="493.92" y="46.53" width="3.80" height="5.13" fill="#fff7dc"/>
<rect x="497.69" y="46.53" width="3.80" height="5.13" fill="#fff7dc"/>
<rect x="501.47" y="46.53" width="3.80" height="5.13" fill="#fff7dc"/>
<rect x="505.25" y="46.53" width="3.80" height="5.13" fill="#fff7dc"/>
<rect x="509.02" y="46.53" width="3.80" height="5.13" fill="#fff0bc"/>
<rect x="312.65" y="51.66" width="3.80" height="5.13" fill="#fff7dc"/>
<rect x="320.21" y="51.66" width="3.80" height="5.13" fill="#fff7dc"/>
<rect x="369.30" y="51.66" width="3.80" height="5.13" fill="#fff7dc"/>
<rect x="391.96" y="51.66" width="3.80" height="5.13" fill="#fff7dc"/>
<rect x="429.72" y="51.66" width="3.80" height="5.13" fill="#fff7dc"/>
<rect x="444.83" y="51.66" width="3.80" height="5.13" fill="#fff0bc"/>
<rect x="448.60" y="51.66" width="3.80" height="5.13" fill="#fff0bc"/>
<rect x="452.38" y="51.66" width="3.80" height="5.13" fill="#fff0bc"/>
<rect x="456.15" y="51.66" width="3.80" height="5.13" fill="#fff7dc"/>
<rect x="459.93" y="51.66" width="3.80" height="5.13" fill="#fff7dc"/>
<rect x="463.71" y="51.66" width="3.80" height="5.13" fill="#fff7dc"/>
<rect x="467.48" y="51.66" width="3.80" height="5.13" fill="#fff0bc"/>
<rect x="471.26" y="51.66" width="3.80" height="5.13" fill="#ffe690"/>
<rect x="486.37" y="51.66" width="3.80" height="5.13" fill="#fff7dc"/>
<rect x="493.92" y="51.66" width="3.80" height="5.13" fill="#fff0bc"/>
<rect x="497.69" y="51.66" width="3.80" height="5.13" fill="#ffe690"/>
<rect x="501.47" y="51.66" width="3.80" height="5.13" fill="#fff7dc"/>
<rect x="505.25" y="51.66" width="3.80" height="5.13" fill="#fff7dc"/>
<rect x="509.02" y="51.66" width="3.80" height="5.13" fill="#ffd200"/>
<rect x="437.27" y="67.05" width="3.80" height="5.13" fill="#ffa000"/>
<rect x="467.48" y="67.05" width="3.80" height="5.13" fill="#ff4000"/>
<rect x="376.85" y="72.18" width="3.80" height="5.13" fill="#fff7dc"/>
<rect x="380.63" y="72.18" width="3.80" height="5.13" fill="#fff7dc"/>
<rect x="391.96" y="72.18" width="3.80" height="5.13" fill="#fff7dc"/>
<rect x="410.84" y="72.18" width="3.80" height="5.13" fill="#ffd200"/>
<rect x="414.61" y="72.18" width="3.80" height="5.13" fill="#ffa000"/>
<rect x="418.39" y="72.18" width="3.80" height="5.13" fill="#ffd200"/>
<rect x="425.94" y="72.18" width="3.80" height="5.13" fill="#fff0bc"/>
<rect x="429.72" y="72.18" width="3.80" height="5.13" fill="#ffd200"/>
<rect x="433.50" y="72.18" width="3.80" height="5.13" fill="#ffe690"/>
<rect x="437.27" y="72.18" width="3.80" height="5.13" fill="#ffe690"/>
<rect x="441.05" y="72.18" width="3.80" height="5.13" fill="#fff0bc"/>
<rect x="444.83" y="72.18" width="3.80" height="5.13" fill="#fff0bc"/>
<rect x="448.60" y="72.18" width="3.80" height="5.13" fill="#ffe690"/>
<rect x="452.38" y="72.18" width="3.80" height="5.13" fill="#fff0bc"/>
<rect x="456.15" y="72.18" width="3.80" height="5.13" fill="#ffe690"/>
<rect x="459.93" y="72.18" width="3.80" height="5.13" fill="#ffd200"/>
<rect x="463.71" y="72.18" width="3.80" height="5.13" fill="#fff7dc"/>
<rect x="467.48" y="72.18" width="3.80" height="5.13" fill="#ff0000"/>
<rect x="471.26" y="72.18" width="3.80" height="5.13" fill="#ffd200"/>
<rect x="475.04" y="72.18" width="3.80" height="5.13" fill="#ffe690"/>
<rect x="478.81" y="72.18" width="3.80" height="5.13" fill="#ffd200"/>
<rect x="482.59" y="72.18" width="3.80" height="5.13" fill="#fff7dc"/>
<rect x="486.37" y="72.18" width="3.80" height="5.13" fill="#ffdb55"/>
<rect x="490.14" y="72.18" width="3.80" height="5.13" fill="#fff0bc"/>
<rect x="493.92" y="72.18" width="3.80" height="5.13" fill="#fff0bc"/>
<rect x="497.69" y="72.18" width="3.80" height="5.13" fill="#ffe690"/>
<rect x="501.47" y="72.18" width="3.80" height="5.13" fill="#ffe690"/>
<rect x="505.25" y="72.18" width="3.80" height="5.13" fill="#fff0bc"/>
<rect x="323.98" y="77.31" width="3.80" height="5.13" fill="#ffd200"/>
<rect x="369.30" y="77.31" width="3.80" height="5.13" fill="#ffe690"/>
<rect x="376.85" y="77.31" width="3.80" height="5.13" fill="#ffe690"/>
<rect x="380.63" y="77.31" width="3.80" height="5.13" fill="#ffd200"/>
<rect x="384.40" y="77.31" width="3.80" height="5.13" fill="#ffe690"/>
<rect x="391.96" y="77.31" width="3.80" height="5.13" fill="#ffd200"/>
<rect x="410.84" y="77.31" width="3.80" height="5.13" fill="#ffd200"/>
<rect x="414.61" y="77.31" width="3.80" height="5.13" fill="#ffd200"/>
<rect x="418.39" y="77.31" width="3.80" height="5.13" fill="#ffd200"/>
<rect x="429.72" y="77.31" width="3.80" height="5.13" fill="#ffd200"/>
<rect x="437.27" y="77.31" width="3.80" height="5.13" fill="#ffd200"/>
<rect x="441.05" y="77.31" width="3.80" height="5.13" fill="#ffd200"/>
<rect x="444.83" y="77.31" width="3.80" height="5.13" fill="#ffd200"/>
<rect x="448.60" y="77.31" width="3.80" height="5.13" fill="#ffd200"/>
<rect x="452.38" y="77.31" width="3.80" height="5.13" fill="#ffd200"/>
<rect x="456.15" y="77.31" width="3.80" height="5.13" fill="#ffd200"/>
<rect x="459.93" y="77.31" width="3.80" height="5.13" fill="#ffd200"/>
<rect x="463.71" y="77.31" width="3.80" height="5.13" fill="#ffd200"/>
<rect x="467.48" y="77.31" width="3.80" height="5.13" fill="#ffd200"/>
<rect x="471.26" y="77.31" width="3.80" height="5.13" fill="#ffbf00"/>
<rect x="475.04" y="77.31" width="3.80" height="5.13" fill="#ffdb55"/>
<rect x="478.81" y="77.31" width="3.80" height="5.13" fill="#ffdb55"/>
<rect x="482.59" y="77.31" width="3.80" height="5.13" fill="#ffd200"/>
<rect x="486.37" y="77.31" width="3.80" height="5.13" fill="#ffd200"/>
<rect x="490.14" y="77.31" width="3.80" height="5.13" fill="#ffd200"/>
<rect x="493.92" y="77.31" width="3.80" height="5.13" fill="#ffd200"/>
<rect x="497.69" y="77.31" width="3.80" height="5.13" fill="#ffd200"/>
<rect x="501.47" y="77.31" width="3.80" height="5.13" fill="#ffd200"/>
<rect x="505.25" y="77.31" width="3.80" height="5.13" fill="#ffd200"/>
<rect x="509.02" y="77.31" width="3.80" height="5.13" fill="#ffa000"/>
<rect x="305.10" y="82.44" width="3.80" height="5.13" fill="#ffd200"/>
<rect x="308.88" y="82.44" width="3.80" height="5.13" fill="#ffd200"/>
<rect x="312.65" y="82.44" width="3.80" height="5.13" fill="#ffbf00"/>
<rect x="316.43" y="82.44" width="3.80" height="5.13" fill="#ffd200"/>
<rect x="320.21" y="82.44" width="3.80" height="5.13" fill="#ffbf00"/>
<rect x="373.07" y="82.44" width="3.80" height="5.13" fill="#ffd200"/>
<rect x="376.85" y="82.44" width="3.80" height="5.13" fill="#ffd200"/>
<rect x="410.84" y="82.44" width="3.80" height="5.13" fill="#ffd200"/>
<rect x="441.05" y="82.44" width="3.80" height="5.13" fill="#ffd200"/>
<rect x="452.38" y="82.44" width="3.80" height="5.13" fill="#ffd200"/>
<rect x="459.93" y="82.44" width="3.80" height="5.13" fill="#ffd200"/>
<rect x="467.48" y="82.44" width="3.80" height="5.13" fill="#ffd200"/>
<rect x="471.26" y="82.44" width="3.80" height="5.13" fill="#ffd200"/>
<rect x="497.69" y="82.44" width="3.80" height="5.13" fill="#ffd200"/>
<rect x="509.02" y="82.44" width="3.80" height="5.13" fill="#ffbf00"/>
<rect x="308.88" y="87.57" width="3.80" height="5.13" fill="#ffa000"/>
<rect x="312.65" y="87.57" width="3.80" height="5.13" fill="#ffd200"/>
<rect x="316.43" y="87.57" width="3.80" height="5.13" fill="#ffa000"/>
<rect x="320.21" y="87.57" width="3.80" height="5.13" fill="#ff7400"/>
<rect x="350.42" y="87.57" width="3.80" height="5.13" fill="#ffd200"/>
<rect x="369.30" y="87.57" width="3.80" height="5.13" fill="#fff0bc"/>
<rect x="376.85" y="87.57" width="3.80" height="5.13" fill="#ffd200"/>
<rect x="380.63" y="87.57" width="3.80" height="5.13" fill="#fff0bc"/>
<rect x="391.96" y="87.57" width="3.80" height="5.13" fill="#ffa000"/>
<rect x="410.84" y="87.57" width="3.80" height="5.13" fill="#ffe690"/>
<rect x="429.72" y="87.57" width="3.80" height="5.13" fill="#fff0bc"/>
<rect x="452.38" y="87.57" width="3.80" height="5.13" fill="#fff7dc"/>
<rect x="456.15" y="87.57" width="3.80" height="5.13" fill="#fff7dc"/>
<rect x="467.48" y="87.57" width="3.80" height="5.13" fill="#ffd200"/>
<rect x="471.26" y="87.57" width="3.80" height="5.13" fill="#fff0bc"/>
<rect x="486.37" y="87.57" width="3.80" height="5.13" fill="#fff0bc"/>
<rect x="497.69" y="87.57" width="3.80" height="5.13" fill="#fff7dc"/>
<rect x="501.47" y="87.57" width="3.80" height="5.13" fill="#fff7dc"/>
<rect x="505.25" y="87.57" width="3.80" height="5.13" fill="#fff7dc"/>
<rect x="509.02" y="87.57" width="3.80" height="5.13" fill="#fff0bc"/>
<rect x="312.65" y="92.70" width="3.80" height="5.13" fill="#ffbf00"/>
<rect x="320.21" y="92.70" width="3.80" height="5.13" fill="#fff0bc"/>
<rect x="323.98" y="92.70" width="3.80" height="5.13" fill="#ff7400"/>
<rect x="339.09" y="92.70" width="3.80" height="5.13" fill="#fff7dc"/>
<rect x="350.42" y="92.70" width="3.80" height="5.13" fill="#fff7dc"/>
<rect x="357.97" y="92.70" width="3.80" height="5.13" fill="#ffbf00"/>
<rect x="361.75" y="92.70" width="3.80" height="5.13" fill="#ffe690"/>
<rect x="365.52" y="92.70" width="3.80" height="5.13" fill="#fff7dc"/>
<rect x="369.30" y="92.70" width="3.80" height="5.13" fill="#ffe690"/>
<rect x="373.07" y="92.70" width="3.80" height="5.13" fill="#fff0bc"/>
<rect x="376.85" y="92.70" width="3.80" height="5.13" fill="#fff0bc"/>
<rect x="380.63" y="92.70" width="3.80" height="5.13" fill="#ff7400"/>
<rect x="384.40" y="92.70" width="3.80" height="5.13" fill="#fff7dc"/>
<rect x="388.18" y="92.70" width="3.80" height="5.13" fill="#ffbf00"/>
<rect x="391.96" y="92.70" width="3.80" height="5.13" fill="#ffd200"/>
<rect x="399.51" y="92.70" width="3.80" height="5.13" fill="#fff7dc"/>
<rect x="444.83" y="92.70" width="3.80" height="5.13" fill="#fff7dc"/>
<rect x="448.60" y="92.70" width="3.80" height="5.13" fill="#fff7dc"/>
<rect x="452.38" y="92.70" width="3.80" height="5.13" fill="#fff7dc"/>
<rect x="456.15" y="92.70" width="3.80" height="5.13" fill="#fff7dc"/>
<rect x="459.93" y="92.70" width="3.80" height="5.13" fill="#fff7dc"/>
<rect x="463.71" y="92.70" width="3.80" height="5.13" fill="#fff7dc"/>
<rect x="467.48" y="92.70" width="3.80" height="5.13" fill="#fff7dc"/>
<rect x="471.26" y="92.70" width="3.80" height="5.13" fill="#fff7dc"/>
<rect x="475.04" y="92.70" width="3.80" height="5.13" fill="#fff7dc"/>
<rect x="478.81" y="92.70" width="3.80" height="5.13" fill="#fff7dc"/>
<rect x="482.59" y="92.70" width="3.80" height="5.13" fill="#fff7dc"/>
<rect x="486.37" y="92.70" width="3.80" height="5.13" fill="#fff7dc"/>
<rect x="490.14" y="92.70" width="3.80" height="5.13" fill="#fff7dc"/>
<rect x="493.92" y="92.70" width="3.80" height="5.13" fill="#fff7dc"/>
<rect x="497.69" y="92.70" width="3.80" height="5.13" fill="#fff7dc"/>
<rect x="501.47" y="92.70" width="3.80" height="5.13" fill="#fff7dc"/>
<rect x="505.25" y="92.70" width="3.80" height="5.13" fill="#fff7dc"/>
<rect x="509.02" y="92.70" width="3.80" height="5.13" fill="#fff0bc"/>
<rect x="305.10" y="97.83" width="3.80" height="5.13" fill="#ffd200"/>
<rect x="308.88" y="97.83" width="3.80" height="5.13" fill="#ffd200"/>
<rect x="312.65" y="97.83" width="3.80" height="5.13" fill="#ffe690"/>
<rect x="316.43" y="97.83" width="3.80" height="5.13" fill="#ffd200"/>
<rect x="320.21" y="97.83" width="3.80" height="5.13" fill="#ffd200"/>
<rect x="323.98" y="97.83" width="3.80" height="5.13" fill="#ffd200"/>
<rect x="331.53" y="97.83" width="3.80" height="5.13" fill="#ffbf00"/>
<rect x="335.31" y="97.83" width="3.80" height="5.13" fill="#fff0bc"/>
<rect x="339.09" y="97.83" width="3.80" height="5.13" fill="#fff0bc"/>
<rect x="342.86" y="97.83" width="3.80" height="5.13" fill="#ffe690"/>
<rect x="346.64" y="97.83" width="3.80" height="5.13" fill="#ffa000"/>
<rect x="350.42" y="97.83" width="3.80" height="5.13" fill="#ffe690"/>
<rect x="354.19" y="97.83" width="3.80" height="5.13" fill="#ffe690"/>
<rect x="357.97" y="97.83" width="3.80" height="5.13" fill="#fff0bc"/>
<rect x="361.75" y="97.83" width="3.80" height="5.13" fill="#ffd200"/>
<rect x="365.52" y="97.83" width="3.80" height="5.13" fill="#ffd200"/>
<rect x="369.30" y="97.83" width="3.80" height="5.13" fill="#ffd200"/>
<rect x="373.07" y="97.83" width="3.80" height="5.13" fill="#ffd200"/>
<rect x="376.85" y="97.83" width="3.80" height="5.13" fill="#ffe690"/>
<rect x="380.63" y="97.83" width="3.80" height="5.13" fill="#ffe690"/>
<rect x="384.40" y="97.83" width="3.80" height="5.13" fill="#ffe690"/>
<rect x="388.18" y="97.83" width="3.80" height="5.13" fill="#ffe690"/>
<rect x="391.96" y="97.83" width="3.80" height="5.13" fill="#ffd200"/>
<rect x="395.73" y="97.83" width="3.80" height="5.13" fill="#ffbf00"/>
<rect x="399.51" y="97.83" width="3.80" height="5.13" fill="#ffd200"/>
<rect x="403.29" y="97.83" width="3.80" height="5.13" fill="#fff0bc"/>
<rect x="407.06" y="97.83" width="3.80" height="5.13" fill="#fff0bc"/>
<rect x="410.84" y="97.83" width="3.80" height="5.13" fill="#ffe690"/>
<rect x="414.61" y="97.83" width="3.80" height="5.13" fill="#fff7dc"/>
<rect x="418.39" y="97.83" width="3.80" height="5.13" fill="#fff7dc"/>
<rect x="422.17" y="97.83" width="3.80" height="5.13" fill="#fff7dc"/>
<rect x="429.72" y="97.83" width="3.80" height="5.13" fill="#ffd200"/>
<rect x="433.50" y="97.83" width="3.80" height="5.13" fill="#fff7dc"/>
<rect x="437.27" y="97.83" width="3.80" height="5.13" fill="#fff0bc"/>
<rect x="441.05" y="97.83" width="3.80" height="5.13" fill="#ffbf00"/>
<rect x="444.83" y="97.83" width="3.80" height="5.13" fill="#ffbf00"/>
<rect x="448.60" y="97.83" width="3.80" height="5.13" fill="#fff7dc"/>
<rect x="452.38" y="97.83" width="3.80" height="5.13" fill="#ffa000"/>
<rect x="456.15" y="97.83" width="3.80" height="5.13" fill="#ffd200"/>
<rect x="459.93" y="97.83" width="3.80" height="5.13" fill="#ffd200"/>
<rect x="463.71" y="97.83" width="3.80" height="5.13" fill="#fff0bc"/>
<rect x="467.48" y="97.83" width="3.80" height="5.13" fill="#ffe690"/>
<rect x="471.26" y="97.83" width="3.80" height="5.13" fill="#ffe690"/>
<rect x="475.04" y="97.83" width="3.80" height="5.13" fill="#fff7dc"/>
<rect x="478.81" y="97.83" width="3.80" height="5.13" fill="#fff0bc"/>
<rect x="482.59" y="97.83" width="3.80" height="5.13" fill="#fff7dc"/>
<rect x="486.37" y="97.83" width="3.80" height="5.13" fill="#fff7dc"/>
<rect x="490.14" y="97.83" width="3.80" height="5.13" fill="#fff7dc"/>
<rect x="493.92" y="97.83" width="3.80" height="5.13" fill="#fff0bc"/>
<rect x="497.69" y="97.83" width="3.80" height="5.13" fill="#ffe690"/>
<rect x="501.47" y="97.83" width="3.80" height="5.13" fill="#fff0bc"/>
<rect x="505.25" y="97.83" width="3.80" height="5.13" fill="#ffd200"/>
<rect x="509.02" y="97.83" width="3.80" height="5.13" fill="#ffd200"/>
<rect x="305.10" y="102.96" width="3.80" height="5.13" fill="#ffd200"/>
<rect x="308.88" y="102.96" width="3.80" height="5.13" fill="#ffd200"/>
<rect x="312.65" y="102.96" width="3.80" height="5.13" fill="#ffd200"/>
<rect x="316.43" y="102.96" width="3.80" height="5.13" fill="#ffd200"/>
<rect x="320.21" y="102.96" width="3.80" height="5.13" fill="#ffe690"/>
<rect x="323.98" y="102.96" width="3.80" height="5.13" fill="#ffbf00"/>
<rect x="331.53" y="102.96" width="3.80" height="5.13" fill="#fff0bc"/>
<rect x="335.31" y="102.96" width="3.80" height="5.13" fill="#ffd200"/>
<rect x="339.09" y="102.96" width="3.80" height="5.13" fill="#fff0bc"/>
<rect x="342.86" y="102.96" width="3.80" height="5.13" fill="#fff0bc"/>
<rect x="346.64" y="102.96" width="3.80" height="5.13" fill="#ffe690"/>
<rect x="350.42" y="102.96" width="3.80" height="5.13" fill="#fff0bc"/>
<rect x="354.19" y="102.96" width="3.80" height="5.13" fill="#fff7dc"/>
<rect x="357.97" y="102.96" width="3.80" height="5.13" fill="#ffbf00"/>
<rect x="361.75" y="102.96" width="3.80" height="5.13" fill="#ffbf00"/>
<rect x="365.52" y="102.96" width="3.80" height="5.13" fill="#ffd200"/>
<rect x="369.30" y="102.96" width="3.80" height="5.13" fill="#ffd200"/>
<rect x="373.07" y="102.96" width="3.80" height="5.13" fill="#ffd200"/>
<rect x="376.85" y="102.96" width="3.80" height="5.13" fill="#ffe690"/>
<rect x="380.63" y="102.96" width="3.80" height="5.13" fill="#ffd200"/>
<rect x="384.40" y="102.96" width="3.80" height="5.13" fill="#ffd200"/>
<rect x="388.18" y="102.96" width="3.80" height="5.13" fill="#ffe690"/>
<rect x="391.96" y="102.96" width="3.80" height="5.13" fill="#ffd200"/>
<rect x="399.51" y="102.96" width="3.80" height="5.13" fill="#ffe690"/>
<rect x="410.84" y="102.96" width="3.80" height="5.13" fill="#ffd200"/>
<rect x="418.39" y="102.96" width="3.80" height="5.13" fill="#ffe690"/>
<rect x="429.72" y="102.96" width="3.80" height="5.13" fill="#ffd200"/>
<rect x="433.50" y="102.96" width="3.80" height="5.13" fill="#ffe690"/>
<rect x="437.27" y="102.96" width="3.80" height="5.13" fill="#ffdb55"/>
<rect x="441.05" y="102.96" width="3.80" height="5.13" fill="#ffd200"/>
<rect x="444.83" y="102.96" width="3.80" height="5.13" fill="#ffd200"/>
<rect x="448.60" y="102.96" width="3.80" height="5.13" fill="#ffd200"/>
<rect x="452.38" y="102.96" width="3.80" height="5.13" fill="#ffd200"/>
<rect x="456.15" y="102.96" width="3.80" height="5.13" fill="#ffd200"/>
<rect x="459.93" y="102.96" width="3.80" height="5.13" fill="#ffd200"/>
<rect x="463.71" y="102.96" width="3.80" height="5.13" fill="#ffd200"/>
<rect x="467.48" y="102.96" width="3.80" height="5.13" fill="#ffd200"/>
<rect x="471.26" y="102.96" width="3.80" height="5.13" fill="#ffd200"/>
<rect x="482.59" y="102.96" width="3.80" height="5.13" fill="#ffd200"/>
<rect x="486.37" y="102.96" width="3.80" height="5.13" fill="#ffd200"/>
<rect x="490.14" y="102.96" width="3.80" height="5.13" fill="#ffd200"/>
<rect x="493.92" y="102.96" width="3.80" height="5.13" fill="#ffd200"/>
<rect x="497.69" y="102.96" width="3.80" height="5.13" fill="#ffd200"/>
<rect x="501.47" y="102.96" width="3.80" height="5.13" fill="#ffd200"/>
<rect x="505.25" y="102.96" width="3.80" height="5.13" fill="#ffd200"/>
<rect x="509.02" y="102.96" width="3.80" height="5.13" fill="#ffd200"/>
<rect x="471.26" y="108.09" width="3.80" height="5.13" fill="#ffa000"/>
<rect x="486.37" y="108.09" width="3.80" height="5.13" fill="#ff4000"/>
<rect x="305.10" y="113.22" width="3.80" height="5.13" fill="#fff0bc"/>
<rect x="308.88" y="113.22" width="3.80" height="5.13" fill="#ffe690"/>
<rect x="312.65" y="113.22" width="3.80" height="5.13" fill="#ffd200"/>
<rect x="316.43" y="113.22" width="3.80" height="5.13" fill="#ffe690"/>
<rect x="320.21" y="113.22" width="3.80" height="5.13" fill="#ff7400"/>
<rect x="323.98" y="113.22" width="3.80" height="5.13" fill="#ffd200"/>
<rect x="331.53" y="113.22" width="3.80" height="5.13" fill="#ffe690"/>
<rect x="335.31" y="113.22" width="3.80" height="5.13" fill="#ffd200"/>
<rect x="339.09" y="113.22" width="3.80" height="5.13" fill="#ffe690"/>
<rect x="342.86" y="113.22" width="3.80" height="5.13" fill="#fff0bc"/>
<rect x="346.64" y="113.22" width="3.80" height="5.13" fill="#fff7dc"/>
<rect x="350.42" y="113.22" width="3.80" height="5.13" fill="#fff0bc"/>
<rect x="354.19" y="113.22" width="3.80" height="5.13" fill="#fff0bc"/>
<rect x="357.97" y="113.22" width="3.80" height="5.13" fill="#ffd200"/>
<rect x="361.75" y="113.22" width="3.80" height="5.13" fill="#ffd200"/>
<rect x="365.52" y="113.22" width="3.80" height="5.13" fill="#fff0bc"/>
<rect x="369.30" y="113.22" width="3.80" height="5.13" fill="#ffd200"/>
<rect x="373.07" y="113.22" width="3.80" height="5.13" fill="#ffd200"/>
<rect x="376.85" y="113.22" width="3.80" height="5.13" fill="#ffd200"/>
<rect x="380.63" y="113.22" width="3.80" height="5.13" fill="#ffd200"/>
<rect x="384.40" y="113.22" width="3.80" height="5.13" fill="#ffd200"/>
<rect x="388.18" y="113.22" width="3.80" height="5.13" fill="#fff0bc"/>
<rect x="391.96" y="113.22" width="3.80" height="5.13" fill="#ffd200"/>
<rect x="395.73" y="113.22" width="3.80" height="5.13" fill="#ffd200"/>
<rect x="399.51" y="113.22" width="3.80" height="5.13" fill="#ffd200"/>
<rect x="403.29" y="113.22" width="3.80" height="5.13" fill="#fff0bc"/>
<rect x="407.06" y="113.22" width="3.80" height="5.13" fill="#fff0bc"/>
<rect x="410.84" y="113.22" width="3.80" height="5.13" fill="#ffd200"/>
<rect x="414.61" y="113.22" width="3.80" height="5.13" fill="#fff7dc"/>
<rect x="418.39" y="113.22" width="3.80" height="5.13" fill="#ffd200"/>
<rect x="422.17" y="113.22" width="3.80" height="5.13" fill="#fff0bc"/>
<rect x="429.72" y="113.22" width="3.80" height="5.13" fill="#ffd200"/>
<rect x="433.50" y="113.22" width="3.80" height="5.13" fill="#ffdb55"/>
<rect x="437.27" y="113.22" width="3.80" height="5.13" fill="#ffd200"/>
<rect x="441.05" y="113.22" width="3.80" height="5.13" fill="#ffd200"/>
<rect x="444.83" y="113.22" width="3.80" height="5.13" fill="#ffd200"/>
<rect x="448.60" y="113.22" width="3.80" height="5.13" fill="#ffd200"/>
<rect x="452.38" y="113.22" width="3.80" height="5.13" fill="#ffe690"/>
<rect x="456.15" y="113.22" width="3.80" height="5.13" fill="#ffd200"/>
<rect x="459.93" y="113.22" width="3.80" height="5.13" fill="#ffdb55"/>
<rect x="463.71" y="113.22" width="3.80" height="5.13" fill="#ffd200"/>
<rect x="467.48" y="113.22" width="3.80" height="5.13" fill="#ffd200"/>
<rect x="471.26" y="113.22" width="3.80" height="5.13" fill="#ffd200"/>
<rect x="475.04" y="113.22" width="3.80" height="5.13" fill="#ffe690"/>
<rect x="478.81" y="113.22" width="3.80" height="5.13" fill="#ffd200"/>
<rect x="482.59" y="113.22" width="3.80" height="5.13" fill="#ffd200"/>
<rect x="486.37" y="113.22" width="3.80" height="5.13" fill="#ffd200"/>
<rect x="490.14" y="113.22" width="3.80" height="5.13" fill="#ffd200"/>
<rect x="493.92" y="113.22" width="3.80" height="5.13" fill="#ffd200"/>
<rect x="497.69" y="113.22" width="3.80" height="5.13" fill="#ffd200"/>
<rect x="501.47" y="113.22" width="3.80" height="5.13" fill="#ffd200"/>
<rect x="505.25" y="113.22" width="3.80" height="5.13" fill="#ffd200"/>
<rect x="509.02" y="113.22" width="3.80" height="5.13" fill="#ffd200"/>
<rect x="305.10" y="15.15" width="207.70" height="1.2" fill="#000" fill-opacity="0.55"/>
<rect x="305.10" y="20.28" width="207.70" height="1.2" fill="#000" fill-opacity="0.55"/>
<rect x="305.10" y="25.41" width="207.70" height="1.2" fill="#000" fill-opacity="0.55"/>
<rect x="305.10" y="30.54" width="207.70" height="1.2" fill="#000" fill-opacity="0.55"/>
<rect x="305.10" y="35.67" width="207.70" height="1.2" fill="#000" fill-opacity="0.55"/>
<rect x="305.10" y="40.80" width="207.70" height="1.2" fill="#000" fill-opacity="0.55"/>
<rect x="305.10" y="45.93" width="207.70" height="1.2" fill="#000" fill-opacity="0.55"/>
<rect x="305.10" y="51.06" width="207.70" height="1.2" fill="#000" fill-opacity="0.55"/>
<rect x="305.10" y="56.19" width="207.70" height="1.2" fill="#000" fill-opacity="0.55"/>
<rect x="305.10" y="61.32" width="207.70" height="1.2" fill="#000" fill-opacity="0.55"/>
<rect x="305.10" y="66.45" width="207.70" height="1.2" fill="#000" fill-opacity="0.55"/>
<rect x="305.10" y="71.58" width="207.70" height="1.2" fill="#000" fill-opacity="0.55"/>
<rect x="305.10" y="76.71" width="207.70" height="1.2" fill="#000" fill-opacity="0.55"/>
<rect x="305.10" y="81.84" width="207.70" height="1.2" fill="#000" fill-opacity="0.55"/>
<rect x="305.10" y="86.97" width="207.70" height="1.2" fill="#000" fill-opacity="0.55"/>
<rect x="305.10" y="92.10" width="207.70" height="1.2" fill="#000" fill-opacity="0.55"/>
<rect x="305.10" y="97.23" width="207.70" height="1.2" fill="#000" fill-opacity="0.55"/>
<rect x="305.10" y="102.36" width="207.70" height="1.2" fill="#000" fill-opacity="0.55"/>
<rect x="305.10" y="107.49" width="207.70" height="1.2" fill="#000" fill-opacity="0.55"/>
<rect x="305.10" y="112.62" width="207.70" height="1.2" fill="#000" fill-opacity="0.55"/>
<rect x="305.10" y="117.75" width="207.70" height="1.2" fill="#000" fill-opacity="0.55"/>
<defs><linearGradient id="g" x1="0" x2="1" y1="0" y2="0"><stop offset="0" stop-color="#ffd400"/><stop offset="0.5" stop-color="#ff9a00"/><stop offset="1" stop-color="#ff0d00"/></linearGradient></defs>
<rect x="260.8" y="228.3" width="70.5" height="4.8" fill="url(#g)"/>
<rect x="273.60" y="232" width="0.8" height="1" fill="#fff" opacity="0.7"/>
<rect x="295.90" y="232" width="0.8" height="1" fill="#fff" opacity="0.7"/>
<rect x="310.30" y="232" width="0.8" height="1" fill="#fff" opacity="0.7"/>
<rect x="0" y="0" width="520" height="1.3" fill="#262626"/>
<rect x="0" y="0" width="1.6" height="248" fill="#222"/>
<rect x="518.8" y="0" width="1.2" height="248" fill="#111"/>
<rect x="0" y="245.9" width="520" height="2.1" fill="#2a2a2a"/>
<text x="8.70" y="12.10" font-size="5.0" fill="#333" text-anchor="start" >H3K27ac</text>
<text x="304.80" y="11.70" font-size="5.1" fill="#333" text-anchor="start" >H3K4me3</text>
<text x="0" y="0" font-size="2.9" fill="#111" text-anchor="end" transform="translate(66.30,19.27) rotate(0.01) scale(1.060,1)" text-rendering="geometricPrecision" stroke="#222" stroke-width="0.08">8q24.21, rs2456449 (PVT1-MYC)</text>
<text x="0" y="0" font-size="2.9" fill="#111" text-anchor="end" transform="translate(66.30,24.39) rotate(0.01) scale(1.010,1)" text-rendering="geometricPrecision" stroke="#222" stroke-width="0.08">6p21, rs114475122 (HLA Class II)</text>
<text x="0" y="0" font-size="2.9" fill="#111" text-anchor="end" transform="translate(66.30,29.52) rotate(0.01) scale(1.010,1)" text-rendering="geometricPrecision" stroke="#222" stroke-width="0.08">6p21, rs113790172 (HLA Class I)</text>
<text x="0" y="0" font-size="2.9" fill="#111" text-anchor="end" transform="translate(66.30,34.66) rotate(0.01) scale(0.980,1)" text-rendering="geometricPrecision" stroke="#222" stroke-width="0.08">16p11.2, rs9656176 (MAPK3 - CORO1A)</text>
<text x="0" y="0" font-size="2.9" fill="#111" text-anchor="end" transform="translate(66.30,39.78) rotate(0.01) scale(1.003,1)" text-rendering="geometricPrecision" stroke="#222" stroke-width="0.08">6q23.3, rs1063658 (TNFAIP3)</text>
<text x="0" y="0" font-size="2.9" fill="#111" text-anchor="end" transform="translate(66.30,44.91) rotate(0.01) scale(0.981,1)" text-rendering="geometricPrecision" stroke="#222" stroke-width="0.08">6p21.31, rs649775 (BAK1 - ITPR3)</text>
<text x="0" y="0" font-size="2.9" fill="#111" text-anchor="end" transform="translate(66.30,50.05) rotate(0.01) scale(0.999,1)" text-rendering="geometricPrecision" stroke="#222" stroke-width="0.08">13q34, rs117398803 (UPF3A - CDC16A)</text>
<text x="0" y="0" font-size="2.9" fill="#111" text-anchor="end" transform="translate(66.30,55.17) rotate(0.01) scale(1.029,1)" text-rendering="geometricPrecision" stroke="#222" stroke-width="0.08">16p13.13, rs4497365 (CLEC16A)</text>
<text x="0" y="0" font-size="2.9" fill="#111" text-anchor="end" transform="translate(66.30,60.30) rotate(0.01) scale(0.994,1)" text-rendering="geometricPrecision" stroke="#222" stroke-width="0.08">19p13.3, rs2012125 (TCF3A)</text>
<text x="0" y="0" font-size="2.9" fill="#111" text-anchor="end" transform="translate(66.30,65.44) rotate(0.01) scale(1.001,1)" text-rendering="geometricPrecision" stroke="#222" stroke-width="0.08">2p16.1, rs2420818 (REL)</text>
<text x="0" y="0" font-size="2.9" fill="#111" text-anchor="end" transform="translate(66.30,70.56) rotate(0.01) scale(1.008,1)" text-rendering="geometricPrecision" stroke="#222" stroke-width="0.08">3q28, rs4458895 (BCL6)</text>
<text x="0" y="0" font-size="2.9" fill="#111" text-anchor="end" transform="translate(66.30,75.70) rotate(0.01) scale(1.034,1)" text-rendering="geometricPrecision" stroke="#222" stroke-width="0.08">11q23.1, rs7111520 (POU2AF1)</text>
<text x="0" y="0" font-size="2.9" fill="#111" text-anchor="end" transform="translate(66.30,80.83) rotate(0.01) scale(1.014,1)" text-rendering="geometricPrecision" stroke="#222" stroke-width="0.08">20q13.12, rs2425752 (CD40)</text>
<text x="0" y="0" font-size="2.9" fill="#111" text-anchor="end" transform="translate(66.30,85.95) rotate(0.01) scale(1.034,1)" text-rendering="geometricPrecision" stroke="#222" stroke-width="0.08">6q23.3, rs6910077 (AHI1)</text>
<text x="0" y="0" font-size="2.9" fill="#111" text-anchor="end" transform="translate(66.30,91.08) rotate(0.01) scale(0.987,1)" text-rendering="geometricPrecision" stroke="#222" stroke-width="0.08">6q23.3, rs4404664 (HBS1L - MYB)</text>
<text x="0" y="0" font-size="2.9" fill="#111" text-anchor="end" transform="translate(66.30,96.22) rotate(0.01) scale(0.963,1)" text-rendering="geometricPrecision" stroke="#222" stroke-width="0.08">6q22.33, rs4402849 (THEMIS - PTPRK)</text>
<text x="0" y="0" font-size="2.9" fill="#111" text-anchor="end" transform="translate(66.30,101.34) rotate(0.01) scale(1.014,1)" text-rendering="geometricPrecision" stroke="#222" stroke-width="0.08">10p14, rs2388486 (GATA3)</text>
<text x="0" y="0" font-size="2.9" fill="#111" text-anchor="end" transform="translate(66.30,106.47) rotate(0.01) scale(1.014,1)" text-rendering="geometricPrecision" stroke="#222" stroke-width="0.08">10p14, rs3781093 (GATA3)</text>
<text x="0" y="0" font-size="2.9" fill="#111" text-anchor="end" transform="translate(66.30,111.61) rotate(0.01) scale(0.927,1)" text-rendering="geometricPrecision" stroke="#222" stroke-width="0.08">5q31.1, rs20541 (IL-13)</text>
<text x="0" y="0" font-size="2.9" fill="#111" text-anchor="end" transform="translate(66.30,116.73) rotate(0.01) scale(0.971,1)" text-rendering="geometricPrecision" stroke="#222" stroke-width="0.08">3p24.1, rs9880624 (EOMES)</text>
<text x="0" y="0" font-size="2.6" fill="#222" stroke="#333" stroke-width="0.05" text-anchor="end" text-rendering="geometricPrecision" transform="translate(72.34,120.6) rotate(-90) scale(1.277,1)">Thymus - CD3+ CD4+ CD8+ thymocyte</text>
<text x="0" y="0" font-size="2.6" fill="#222" stroke="#333" stroke-width="0.05" text-anchor="end" text-rendering="geometricPrecision" transform="translate(76.95,120.6) rotate(-90) scale(1.277,1)">Thymus - CD3+ CD4+ CD8+ thymocyte</text>
<text x="0" y="0" font-size="2.6" fill="#222" stroke="#333" stroke-width="0.05" text-anchor="end" text-rendering="geometricPrecision" transform="translate(81.56,120.6) rotate(-90) scale(1.277,1)">Thymus - CD3+ CD4+ CD8+ thymocyte</text>
<text x="0" y="0" font-size="2.6" fill="#222" stroke="#333" stroke-width="0.05" text-anchor="end" text-rendering="geometricPrecision" transform="translate(86.17,120.6) rotate(-90) scale(1.245,1)">Thymus - CD3+ thymocyte</text>
<text x="0" y="0" font-size="2.6" fill="#222" stroke="#333" stroke-width="0.05" text-anchor="end" text-rendering="geometricPrecision" transform="translate(90.78,120.6) rotate(-90) scale(1.458,1)">CB - CD4+ T cell</text>
<text x="0" y="0" font-size="2.6" fill="#222" stroke="#333" stroke-width="0.05" text-anchor="end" text-rendering="geometricPrecision" transform="translate(95.38,120.6) rotate(-90) scale(1.458,1)">CB - CD4+ T cell</text>
<text x="0" y="0" font-size="2.6" fill="#222" stroke="#333" stroke-width="0.05" text-anchor="end" text-rendering="geometricPrecision" transform="translate(99.99,120.6) rotate(-90) scale(1.458,1)">CB - CD4+ T cell</text>
<text x="0" y="0" font-size="2.6" fill="#222" stroke="#333" stroke-width="0.05" text-anchor="end" text-rendering="geometricPrecision" transform="translate(104.60,120.6) rotate(-90) scale(1.458,1)">CB - CD4+ T cell</text>
<text x="0" y="0" font-size="2.6" fill="#222" stroke="#333" stroke-width="0.05" text-anchor="end" text-rendering="geometricPrecision" transform="translate(109.21,120.6) rotate(-90) scale(1.458,1)">CB - CD4+ T cell</text>
<text x="0" y="0" font-size="2.6" fill="#222" stroke="#333" stroke-width="0.05" text-anchor="end" text-rendering="geometricPrecision" transform="translate(113.82,120.6) rotate(-90) scale(1.458,1)">CB - CD4+ T cell</text>
<text x="0" y="0" font-size="2.6" fill="#222" stroke="#333" stroke-width="0.05" text-anchor="end" text-rendering="geometricPrecision" transform="translate(118.43,120.6) rotate(-90) scale(1.458,1)">CB - CD4+ T cell</text>
<text x="0" y="0" font-size="2.6" fill="#222" stroke="#333" stroke-width="0.05" text-anchor="end" text-rendering="geometricPrecision" transform="translate(123.04,120.6) rotate(-90) scale(1.458,1)">CB - CD4+ T cell</text>
<text x="0" y="0" font-size="2.6" fill="#222" stroke="#333" stroke-width="0.05" text-anchor="end" text-rendering="geometricPrecision" transform="translate(127.65,120.6) rotate(-90) scale(1.458,1)">CB - CD4+ T cell</text>
<text x="0" y="0" font-size="2.6" fill="#222" stroke="#333" stroke-width="0.05" text-anchor="end" text-rendering="geometricPrecision" transform="translate(132.26,120.6) rotate(-90) scale(1.315,1)">VB - Effector memory CD8+ T cell</text>
<text x="0" y="0" font-size="2.6" fill="#222" stroke="#333" stroke-width="0.05" text-anchor="end" text-rendering="geometricPrecision" transform="translate(136.86,120.6) rotate(-90) scale(1.458,1)">CB - CD4+ T cell</text>
<text x="0" y="0" font-size="2.6" fill="#222" stroke="#333" stroke-width="0.05" text-anchor="end" text-rendering="geometricPrecision" transform="translate(141.47,120.6) rotate(-90) scale(1.458,1)">CB - CD4+ T cell</text>
<text x="0" y="0" font-size="2.6" fill="#222" stroke="#333" stroke-width="0.05" text-anchor="end" text-rendering="geometricPrecision" transform="translate(146.08,120.6) rotate(-90) scale(1.458,1)">CB - CD4+ T cell</text>
<text x="0" y="0" font-size="2.6" fill="#222" stroke="#333" stroke-width="0.05" text-anchor="end" text-rendering="geometricPrecision" transform="translate(150.69,120.6) rotate(-90) scale(1.458,1)">CB - CD4+ T cell</text>
<text x="0" y="0" font-size="2.6" fill="#222" stroke="#333" stroke-width="0.05" text-anchor="end" text-rendering="geometricPrecision" transform="translate(155.30,120.6) rotate(-90) scale(1.458,1)">CB - CD4+ T cell</text>
<text x="0" y="0" font-size="2.6" fill="#222" stroke="#333" stroke-width="0.05" text-anchor="end" text-rendering="geometricPrecision" transform="translate(159.91,120.6) rotate(-90) scale(1.458,1)">CB - CD4+ T cell</text>
<text x="0" y="0" font-size="2.6" fill="#222" stroke="#333" stroke-width="0.05" text-anchor="end" text-rendering="geometricPrecision" transform="translate(164.52,120.6) rotate(-90) scale(1.328,1)">VB - Effector memory CD8+ T cell</text>
<text x="0" y="0" font-size="2.6" fill="#222" stroke="#333" stroke-width="0.05" text-anchor="end" text-rendering="geometricPrecision" transform="translate(169.13,120.6) rotate(-90) scale(1.328,1)">VB - Effector memory CD8+ T cell</text>
<text x="0" y="0" font-size="2.6" fill="#222" stroke="#333" stroke-width="0.05" text-anchor="end" text-rendering="geometricPrecision" transform="translate(173.74,120.6) rotate(-90) scale(1.314,1)">VB - CD56+ NK cell</text>
<text x="0" y="0" font-size="2.6" fill="#222" stroke="#333" stroke-width="0.05" text-anchor="end" text-rendering="geometricPrecision" transform="translate(178.34,120.6) rotate(-90) scale(1.229,1)">Thymus - CD3+ thymocyte</text>
<text x="0" y="0" font-size="2.6" fill="#222" stroke="#333" stroke-width="0.05" text-anchor="end" text-rendering="geometricPrecision" transform="translate(182.95,120.6) rotate(-90) scale(1.229,1)">Thymus - CD3+ thymocyte</text>
<text x="0" y="0" font-size="2.6" fill="#222" stroke="#333" stroke-width="0.05" text-anchor="end" text-rendering="geometricPrecision" transform="translate(187.56,120.6) rotate(-90) scale(1.229,1)">Thymus - CD3+ thymocyte</text>
<text x="0" y="0" font-size="2.6" fill="#222" stroke="#333" stroke-width="0.05" text-anchor="end" text-rendering="geometricPrecision" transform="translate(192.17,120.6) rotate(-90) scale(1.406,1)">CB - CD4+ T cell</text>
<text x="0" y="0" font-size="2.6" fill="#222" stroke="#333" stroke-width="0.05" text-anchor="end" text-rendering="geometricPrecision" transform="translate(196.78,120.6) rotate(-90) scale(1.406,1)">CB - CD4+ T cell</text>
<text x="0" y="0" font-size="2.6" fill="#222" stroke="#333" stroke-width="0.05" text-anchor="end" text-rendering="geometricPrecision" transform="translate(201.39,120.6) rotate(-90) scale(1.406,1)">CB - CD4+ T cell</text>
<text x="0" y="0" font-size="2.6" fill="#222" stroke="#333" stroke-width="0.05" text-anchor="end" text-rendering="geometricPrecision" transform="translate(206.00,120.6) rotate(-90) scale(1.406,1)">CB - CD4+ T cell</text>
<text x="0" y="0" font-size="2.6" fill="#222" stroke="#333" stroke-width="0.05" text-anchor="end" text-rendering="geometricPrecision" transform="translate(210.61,120.6) rotate(-90) scale(1.406,1)">CB - CD4+ T cell</text>
<text x="0" y="0" font-size="2.6" fill="#222" stroke="#333" stroke-width="0.05" text-anchor="end" text-rendering="geometricPrecision" transform="translate(215.22,120.6) rotate(-90) scale(1.371,1)">VB - CD56+ NK cell</text>
<text x="0" y="0" font-size="2.6" fill="#222" stroke="#333" stroke-width="0.05" text-anchor="end" text-rendering="geometricPrecision" transform="translate(219.82,120.6) rotate(-90) scale(1.371,1)">VB - CD56+ NK cell</text>
<text x="0" y="0" font-size="2.6" fill="#222" stroke="#333" stroke-width="0.05" text-anchor="end" text-rendering="geometricPrecision" transform="translate(224.43,120.6) rotate(-90) scale(1.371,1)">VB - CD56+ NK cell</text>
<text x="0" y="0" font-size="2.6" fill="#222" stroke="#333" stroke-width="0.05" text-anchor="end" text-rendering="geometricPrecision" transform="translate(229.04,120.6) rotate(-90) scale(1.203,1)">VB - Central memory CD4+ T cell</text>
<text x="0" y="0" font-size="2.6" fill="#222" stroke="#333" stroke-width="0.05" text-anchor="end" text-rendering="geometricPrecision" transform="translate(233.65,120.6) rotate(-90) scale(1.203,1)">VB - Central memory CD4+ T cell</text>
<text x="0" y="0" font-size="2.6" fill="#222" stroke="#333" stroke-width="0.05" text-anchor="end" text-rendering="geometricPrecision" transform="translate(238.26,120.6) rotate(-90) scale(1.203,1)">VB - Central memory CD4+ T cell</text>
<text x="0" y="0" font-size="2.6" fill="#222" stroke="#333" stroke-width="0.05" text-anchor="end" text-rendering="geometricPrecision" transform="translate(242.87,120.6) rotate(-90) scale(1.152,1)">VB - Central memory CD4+ T cell</text>
<text x="0" y="0" font-size="2.6" fill="#222" stroke="#333" stroke-width="0.05" text-anchor="end" text-rendering="geometricPrecision" transform="translate(247.48,120.6) rotate(-90) scale(1.330,1)">VB - Effector memory CD8+ T cell</text>
<text x="0" y="0" font-size="2.6" fill="#222" stroke="#333" stroke-width="0.05" text-anchor="end" text-rendering="geometricPrecision" transform="translate(252.09,120.6) rotate(-90) scale(1.330,1)">VB - Effector memory CD8+ T cell</text>
<text x="0" y="0" font-size="2.6" fill="#222" stroke="#333" stroke-width="0.05" text-anchor="end" text-rendering="geometricPrecision" transform="translate(256.70,120.6) rotate(-90) scale(1.330,1)">VB - Effector memory CD8+ T cell</text>
<text x="0" y="0" font-size="2.6" fill="#222" stroke="#333" stroke-width="0.05" text-anchor="end" text-rendering="geometricPrecision" transform="translate(261.30,120.6) rotate(-90) scale(1.284,1)">VB - CD56+ NK cell</text>
<text x="0" y="0" font-size="2.6" fill="#222" stroke="#333" stroke-width="0.05" text-anchor="end" text-rendering="geometricPrecision" transform="translate(265.91,120.6) rotate(-90) scale(1.284,1)">VB - CD56+ NK cell</text>
<text x="0" y="0" font-size="2.6" fill="#222" stroke="#333" stroke-width="0.05" text-anchor="end" text-rendering="geometricPrecision" transform="translate(270.52,120.6) rotate(-90) scale(1.284,1)">VB - CD56+ NK cell</text>
<text x="0" y="0" font-size="2.6" fill="#222" stroke="#333" stroke-width="0.05" text-anchor="end" text-rendering="geometricPrecision" transform="translate(275.13,120.6) rotate(-90) scale(1.222,1)">Thymus - CD3+ CD4+ CD8+ thymocyte</text>
<text x="0" y="0" font-size="2.6" fill="#222" stroke="#333" stroke-width="0.05" text-anchor="end" text-rendering="geometricPrecision" transform="translate(307.82,120.6) rotate(-90) scale(1.273,1)">Thymus - CD3+ CD4+ CD8+ thymocyte</text>
<text x="0" y="0" font-size="2.6" fill="#222" stroke="#333" stroke-width="0.05" text-anchor="end" text-rendering="geometricPrecision" transform="translate(311.60,120.6) rotate(-90) scale(1.273,1)">Thymus - CD3+ CD4+ CD8+ thymocyte</text>
<text x="0" y="0" font-size="2.6" fill="#222" stroke="#333" stroke-width="0.05" text-anchor="end" text-rendering="geometricPrecision" transform="translate(315.38,120.6) rotate(-90) scale(1.273,1)">Thymus - CD3+ CD4+ CD8+ thymocyte</text>
<text x="0" y="0" font-size="2.6" fill="#222" stroke="#333" stroke-width="0.05" text-anchor="end" text-rendering="geometricPrecision" transform="translate(319.15,120.6) rotate(-90) scale(1.273,1)">Thymus - CD3+ CD4+ CD8+ thymocyte</text>
<text x="0" y="0" font-size="2.6" fill="#222" stroke="#333" stroke-width="0.05" text-anchor="end" text-rendering="geometricPrecision" transform="translate(322.93,120.6) rotate(-90) scale(1.273,1)">Thymus - CD3+ CD4+ CD8+ thymocyte</text>
<text x="0" y="0" font-size="2.6" fill="#222" stroke="#333" stroke-width="0.05" text-anchor="end" text-rendering="geometricPrecision" transform="translate(326.71,120.6) rotate(-90) scale(1.115,1)">Thymus - CD3+ thymocyte</text>
<text x="0" y="0" font-size="2.6" fill="#222" stroke="#333" stroke-width="0.05" text-anchor="end" text-rendering="geometricPrecision" transform="translate(330.48,120.6) rotate(-90) scale(1.406,1)">CB - CD4+ T cell</text>
<text x="0" y="0" font-size="2.6" fill="#222" stroke="#333" stroke-width="0.05" text-anchor="end" text-rendering="geometricPrecision" transform="translate(334.26,120.6) rotate(-90) scale(1.406,1)">CB - CD4+ T cell</text>
<text x="0" y="0" font-size="2.6" fill="#222" stroke="#333" stroke-width="0.05" text-anchor="end" text-rendering="geometricPrecision" transform="translate(338.04,120.6) rotate(-90) scale(1.406,1)">CB - CD4+ T cell</text>
<text x="0" y="0" font-size="2.6" fill="#222" stroke="#333" stroke-width="0.05" text-anchor="end" text-rendering="geometricPrecision" transform="translate(341.81,120.6) rotate(-90) scale(1.406,1)">CB - CD4+ T cell</text>
<text x="0" y="0" font-size="2.6" fill="#222" stroke="#333" stroke-width="0.05" text-anchor="end" text-rendering="geometricPrecision" transform="translate(345.59,120.6) rotate(-90) scale(1.406,1)">CB - CD4+ T cell</text>
<text x="0" y="0" font-size="2.6" fill="#222" stroke="#333" stroke-width="0.05" text-anchor="end" text-rendering="geometricPrecision" transform="translate(349.36,120.6) rotate(-90) scale(1.406,1)">CB - CD4+ T cell</text>
<text x="0" y="0" font-size="2.6" fill="#222" stroke="#333" stroke-width="0.05" text-anchor="end" text-rendering="geometricPrecision" transform="translate(353.14,120.6) rotate(-90) scale(1.406,1)">CB - CD4+ T cell</text>
<text x="0" y="0" font-size="2.6" fill="#222" stroke="#333" stroke-width="0.05" text-anchor="end" text-rendering="geometricPrecision" transform="translate(356.92,120.6) rotate(-90) scale(1.406,1)">CB - CD4+ T cell</text>
<text x="0" y="0" font-size="2.6" fill="#222" stroke="#333" stroke-width="0.05" text-anchor="end" text-rendering="geometricPrecision" transform="translate(360.69,120.6) rotate(-90) scale(1.406,1)">CB - CD4+ T cell</text>
<text x="0" y="0" font-size="2.6" fill="#222" stroke="#333" stroke-width="0.05" text-anchor="end" text-rendering="geometricPrecision" transform="translate(364.47,120.6) rotate(-90) scale(1.315,1)">VB - Effector memory CD8+ T cell</text>
<text x="0" y="0" font-size="2.6" fill="#222" stroke="#333" stroke-width="0.05" text-anchor="end" text-rendering="geometricPrecision" transform="translate(368.25,120.6) rotate(-90) scale(1.203,1)">VB - Central memory CD4+ T cell</text>
<text x="0" y="0" font-size="2.6" fill="#222" stroke="#333" stroke-width="0.05" text-anchor="end" text-rendering="geometricPrecision" transform="translate(372.02,120.6) rotate(-90) scale(1.300,1)">VB - Effector memory CD8+ T cell</text>
<text x="0" y="0" font-size="2.6" fill="#222" stroke="#333" stroke-width="0.05" text-anchor="end" text-rendering="geometricPrecision" transform="translate(375.80,120.6) rotate(-90) scale(1.196,1)">Thymus - CD3+ thymocyte</text>
<text x="0" y="0" font-size="2.6" fill="#222" stroke="#333" stroke-width="0.05" text-anchor="end" text-rendering="geometricPrecision" transform="translate(379.58,120.6) rotate(-90) scale(1.406,1)">CB - CD4+ T cell</text>
<text x="0" y="0" font-size="2.6" fill="#222" stroke="#333" stroke-width="0.05" text-anchor="end" text-rendering="geometricPrecision" transform="translate(383.35,120.6) rotate(-90) scale(1.406,1)">CB - CD4+ T cell</text>
<text x="0" y="0" font-size="2.6" fill="#222" stroke="#333" stroke-width="0.05" text-anchor="end" text-rendering="geometricPrecision" transform="translate(387.13,120.6) rotate(-90) scale(1.406,1)">CB - CD4+ T cell</text>
<text x="0" y="0" font-size="2.6" fill="#222" stroke="#333" stroke-width="0.05" text-anchor="end" text-rendering="geometricPrecision" transform="translate(390.90,120.6) rotate(-90) scale(1.406,1)">CB - CD4+ T cell</text>
<text x="0" y="0" font-size="2.6" fill="#222" stroke="#333" stroke-width="0.05" text-anchor="end" text-rendering="geometricPrecision" transform="translate(394.68,120.6) rotate(-90) scale(1.406,1)">CB - CD4+ T cell</text>
<text x="0" y="0" font-size="2.6" fill="#222" stroke="#333" stroke-width="0.05" text-anchor="end" text-rendering="geometricPrecision" transform="translate(398.46,120.6) rotate(-90) scale(1.315,1)">VB - Effector memory CD8+ T cell</text>
<text x="0" y="0" font-size="2.6" fill="#222" stroke="#333" stroke-width="0.05" text-anchor="end" text-rendering="geometricPrecision" transform="translate(402.23,120.6) rotate(-90) scale(1.315,1)">VB - Effector memory CD8+ T cell</text>
<text x="0" y="0" font-size="2.6" fill="#222" stroke="#333" stroke-width="0.05" text-anchor="end" text-rendering="geometricPrecision" transform="translate(406.01,120.6) rotate(-90) scale(1.315,1)">VB - Effector memory CD8+ T cell</text>
<text x="0" y="0" font-size="2.6" fill="#222" stroke="#333" stroke-width="0.05" text-anchor="end" text-rendering="geometricPrecision" transform="translate(409.79,120.6) rotate(-90) scale(1.369,1)">VB - CD14+ CD16- classical monocyte (Replicate 2)</text>
<text x="0" y="0" font-size="2.6" fill="#222" stroke="#333" stroke-width="0.05" text-anchor="end" text-rendering="geometricPrecision" transform="translate(413.56,120.6) rotate(-90) scale(1.284,1)">VB - CD56+ NK cell</text>
<text x="0" y="0" font-size="2.6" fill="#222" stroke="#333" stroke-width="0.05" text-anchor="end" text-rendering="geometricPrecision" transform="translate(417.34,120.6) rotate(-90) scale(1.284,1)">VB - CD56+ NK cell</text>
<text x="0" y="0" font-size="2.6" fill="#222" stroke="#333" stroke-width="0.05" text-anchor="end" text-rendering="geometricPrecision" transform="translate(421.12,120.6) rotate(-90) scale(1.284,1)">VB - CD56+ NK cell</text>
<text x="0" y="0" font-size="2.6" fill="#222" stroke="#333" stroke-width="0.05" text-anchor="end" text-rendering="geometricPrecision" transform="translate(424.89,120.6) rotate(-90) scale(1.196,1)">Thymus - CD3+ thymocyte</text>
<text x="0" y="0" font-size="2.6" fill="#222" stroke="#333" stroke-width="0.05" text-anchor="end" text-rendering="geometricPrecision" transform="translate(428.67,120.6) rotate(-90) scale(1.196,1)">Thymus - CD3+ thymocyte</text>
<text x="0" y="0" font-size="2.6" fill="#222" stroke="#333" stroke-width="0.05" text-anchor="end" text-rendering="geometricPrecision" transform="translate(432.44,120.6) rotate(-90) scale(1.196,1)">Thymus - CD3+ thymocyte</text>
<text x="0" y="0" font-size="2.6" fill="#222" stroke="#333" stroke-width="0.05" text-anchor="end" text-rendering="geometricPrecision" transform="translate(436.22,120.6) rotate(-90) scale(1.196,1)">Thymus - CD3+ thymocyte</text>
<text x="0" y="0" font-size="2.6" fill="#222" stroke="#333" stroke-width="0.05" text-anchor="end" text-rendering="geometricPrecision" transform="translate(440.00,120.6) rotate(-90) scale(1.432,1)">CB - CD4+ T cell</text>
<text x="0" y="0" font-size="2.6" fill="#222" stroke="#333" stroke-width="0.05" text-anchor="end" text-rendering="geometricPrecision" transform="translate(443.77,120.6) rotate(-90) scale(1.432,1)">CB - CD4+ T cell</text>
<text x="0" y="0" font-size="2.6" fill="#222" stroke="#333" stroke-width="0.05" text-anchor="end" text-rendering="geometricPrecision" transform="translate(447.55,120.6) rotate(-90) scale(1.432,1)">CB - CD4+ T cell</text>
<text x="0" y="0" font-size="2.6" fill="#222" stroke="#333" stroke-width="0.05" text-anchor="end" text-rendering="geometricPrecision" transform="translate(451.33,120.6) rotate(-90) scale(1.432,1)">CB - CD4+ T cell</text>
<text x="0" y="0" font-size="2.6" fill="#222" stroke="#333" stroke-width="0.05" text-anchor="end" text-rendering="geometricPrecision" transform="translate(455.10,120.6) rotate(-90) scale(1.432,1)">CB - CD4+ T cell</text>
<text x="0" y="0" font-size="2.6" fill="#222" stroke="#333" stroke-width="0.05" text-anchor="end" text-rendering="geometricPrecision" transform="translate(458.88,120.6) rotate(-90) scale(1.371,1)">VB - CD56+ NK cell</text>
<text x="0" y="0" font-size="2.6" fill="#222" stroke="#333" stroke-width="0.05" text-anchor="end" text-rendering="geometricPrecision" transform="translate(462.66,120.6) rotate(-90) scale(1.371,1)">VB - CD56+ NK cell</text>
<text x="0" y="0" font-size="2.6" fill="#222" stroke="#333" stroke-width="0.05" text-anchor="end" text-rendering="geometricPrecision" transform="translate(466.43,120.6) rotate(-90) scale(1.371,1)">VB - CD56+ NK cell</text>
<text x="0" y="0" font-size="2.6" fill="#222" stroke="#333" stroke-width="0.05" text-anchor="end" text-rendering="geometricPrecision" transform="translate(470.21,120.6) rotate(-90) scale(1.193,1)">VB - Central memory CD4+ T cell</text>
<text x="0" y="0" font-size="2.6" fill="#222" stroke="#333" stroke-width="0.05" text-anchor="end" text-rendering="geometricPrecision" transform="translate(473.98,120.6) rotate(-90) scale(1.193,1)">VB - Central memory CD4+ T cell</text>
<text x="0" y="0" font-size="2.6" fill="#222" stroke="#333" stroke-width="0.05" text-anchor="end" text-rendering="geometricPrecision" transform="translate(477.76,120.6) rotate(-90) scale(1.193,1)">VB - Central memory CD4+ T cell</text>
<text x="0" y="0" font-size="2.6" fill="#222" stroke="#333" stroke-width="0.05" text-anchor="end" text-rendering="geometricPrecision" transform="translate(481.54,120.6) rotate(-90) scale(1.193,1)">VB - Central memory CD4+ T cell</text>
<text x="0" y="0" font-size="2.6" fill="#222" stroke="#333" stroke-width="0.05" text-anchor="end" text-rendering="geometricPrecision" transform="translate(485.31,120.6) rotate(-90) scale(1.178,1)">VB - Central memory CD4+ T cell</text>
<text x="0" y="0" font-size="2.6" fill="#222" stroke="#333" stroke-width="0.05" text-anchor="end" text-rendering="geometricPrecision" transform="translate(489.09,120.6) rotate(-90) scale(1.328,1)">VB - Effector memory CD8+ T cell</text>
<text x="0" y="0" font-size="2.6" fill="#222" stroke="#333" stroke-width="0.05" text-anchor="end" text-rendering="geometricPrecision" transform="translate(492.87,120.6) rotate(-90) scale(1.328,1)">VB - Effector memory CD8+ T cell</text>
<text x="0" y="0" font-size="2.6" fill="#222" stroke="#333" stroke-width="0.05" text-anchor="end" text-rendering="geometricPrecision" transform="translate(496.64,120.6) rotate(-90) scale(1.328,1)">VB - Effector memory CD8+ T cell</text>
<text x="0" y="0" font-size="2.6" fill="#222" stroke="#333" stroke-width="0.05" text-anchor="end" text-rendering="geometricPrecision" transform="translate(500.42,120.6) rotate(-90) scale(1.310,1)">VB - CD56+ NK cell</text>
<text x="0" y="0" font-size="2.6" fill="#222" stroke="#333" stroke-width="0.05" text-anchor="end" text-rendering="geometricPrecision" transform="translate(504.20,120.6) rotate(-90) scale(1.310,1)">VB - CD56+ NK cell</text>
<text x="0" y="0" font-size="2.6" fill="#222" stroke="#333" stroke-width="0.05" text-anchor="end" text-rendering="geometricPrecision" transform="translate(507.97,120.6) rotate(-90) scale(1.310,1)">VB - CD56+ NK cell</text>
<text x="0" y="0" font-size="2.6" fill="#222" stroke="#333" stroke-width="0.05" text-anchor="end" text-rendering="geometricPrecision" transform="translate(511.75,120.6) rotate(-90) scale(1.227,1)">Thymus - CD3+ CD4+ CD8+ thymocyte</text>
<text x="259.20" y="239.60" font-size="3.7" fill="#111" text-anchor="middle" text-rendering="geometricPrecision" stroke="#222" stroke-width="0.12">0.0</text>
<text x="273.90" y="239.60" font-size="3.7" fill="#111" text-anchor="middle" text-rendering="geometricPrecision" stroke="#222" stroke-width="0.12">0.2</text>
<text x="296.10" y="239.60" font-size="3.7" fill="#111" text-anchor="middle" text-rendering="geometricPrecision" stroke="#222" stroke-width="0.12">0.5</text>
<text x="310.80" y="239.60" font-size="3.7" fill="#111" text-anchor="middle" text-rendering="geometricPrecision" stroke="#222" stroke-width="0.12">0.7</text>
</svg>
</body></html>
